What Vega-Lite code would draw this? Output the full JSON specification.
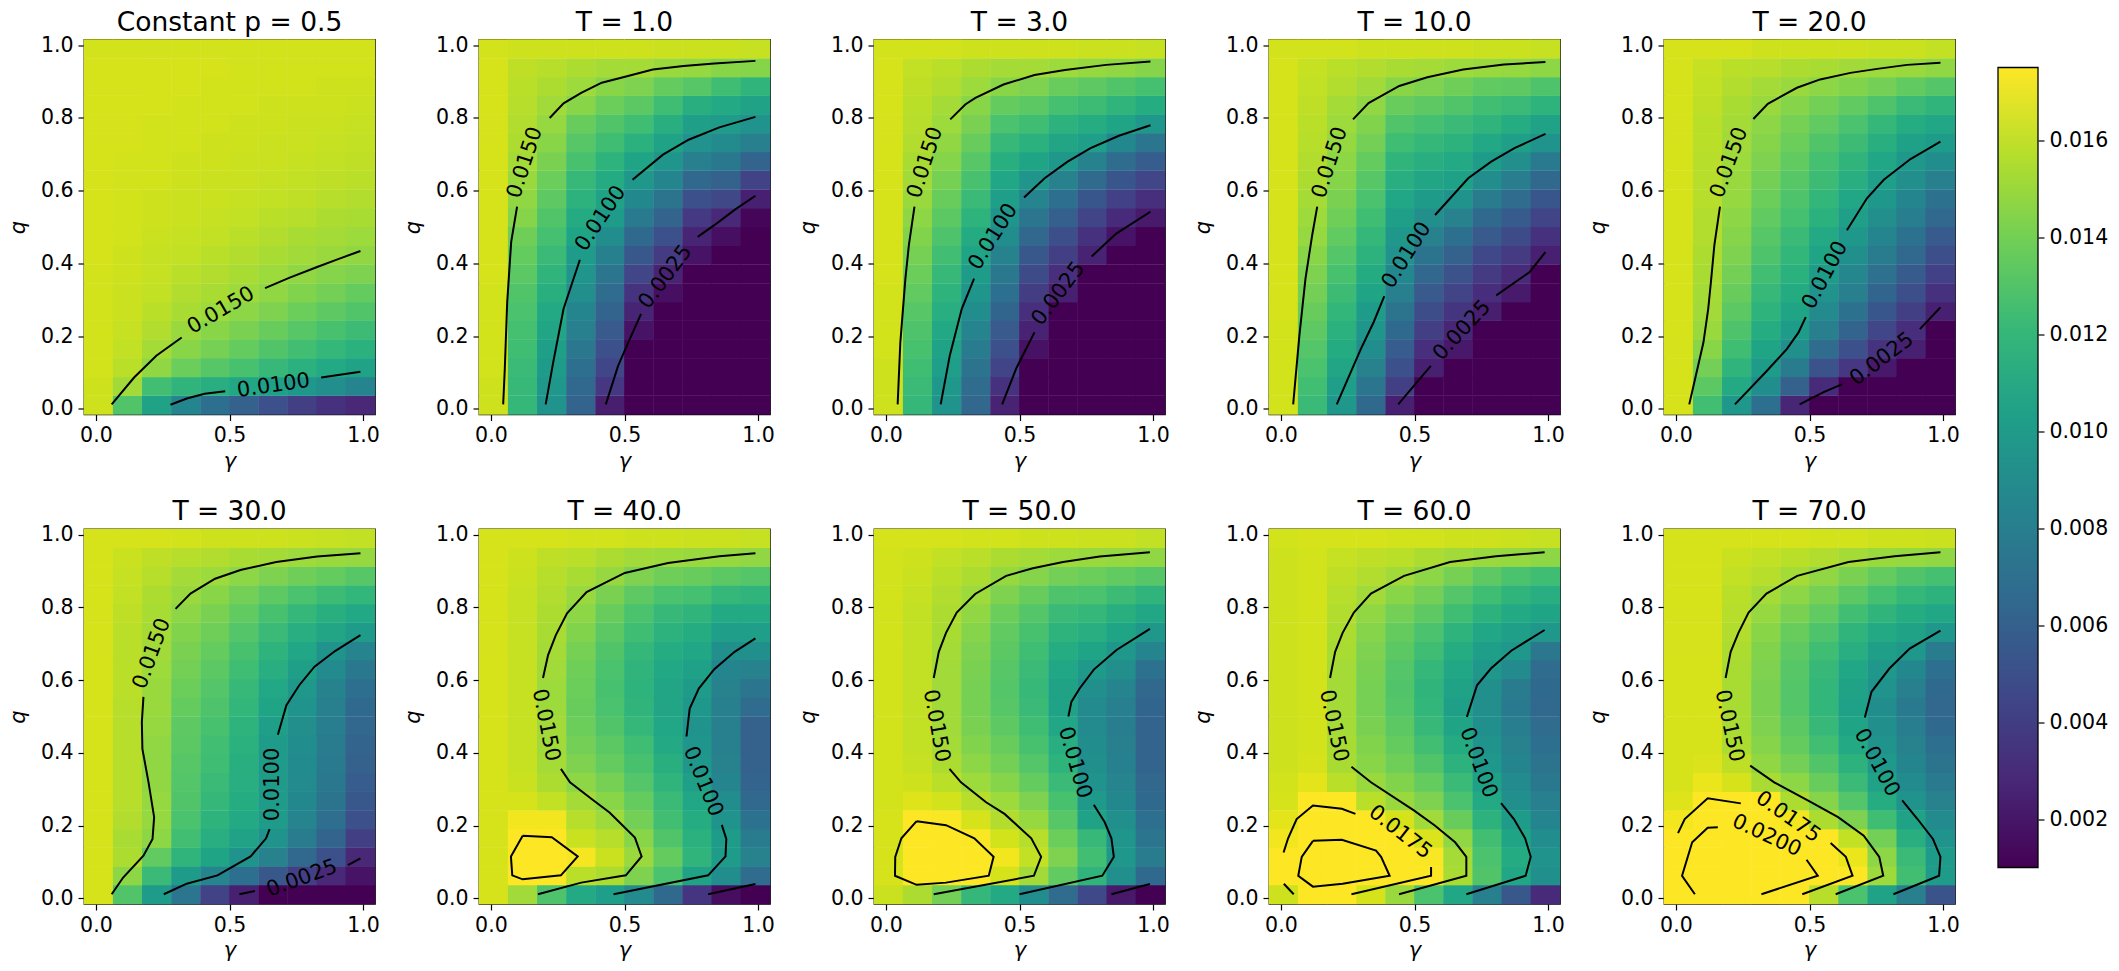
{"$schema":"https://vega.github.io/schema/vega-lite/v6.json","background":"white","padding":{"left":6,"top":8.5,"right":0,"bottom":0},"config":{"font":"DejaVu Sans","view":{"stroke":"black","strokeWidth":1.3},"axis":{"grid":false,"domain":false,"labelFontSize":20.5,"titleFontSize":21,"titleFontWeight":"normal","titleFontStyle":"italic","tickSize":6,"tickWidth":1.2,"tickColor":"black","labelColor":"black","titleColor":"black","labelFlush":false,"labelPadding":5},"axisY":{"titlePadding":12},"title":{"fontSize":26.5,"fontWeight":"normal","color":"black","offset":-1},"text":{"fontSize":21,"color":"black"},"line":{"color":"black","strokeWidth":2,"clip":true},"rect":{"width":29.6,"height":19.2,"clip":true}},"datasets":{"gs":[{"i":0,"g":0.01},{"i":1,"g":0.119},{"i":2,"g":0.228},{"i":3,"g":0.337},{"i":4,"g":0.446},{"i":5,"g":0.554},{"i":6,"g":0.663},{"i":7,"g":0.772},{"i":8,"g":0.881},{"i":9,"g":0.99}],"qs":[{"j":0,"q":0.01},{"j":1,"q":0.062},{"j":2,"q":0.113},{"j":3,"q":0.165},{"j":4,"q":0.216},{"j":5,"q":0.268},{"j":6,"q":0.319},{"j":7,"q":0.371},{"j":8,"q":0.423},{"j":9,"q":0.474},{"j":10,"q":0.526},{"j":11,"q":0.577},{"j":12,"q":0.629},{"j":13,"q":0.681},{"j":14,"q":0.732},{"j":15,"q":0.784},{"j":16,"q":0.835},{"j":17,"q":0.887},{"j":18,"q":0.938},{"j":19,"q":0.99}],"cb":[{"v":10,"w":175}],
"p0":[{"i":0,"j":0,"v":163},{"i":1,"j":0,"v":130},{"i":2,"j":0,"v":105},{"i":3,"j":0,"v":85},{"i":4,"j":0,"v":70},{"i":5,"j":0,"v":60},{"i":6,"j":0,"v":50},{"i":7,"j":0,"v":40},{"i":8,"j":0,"v":33},{"i":9,"j":0,"v":28},
{"i":0,"j":1,"v":163},{"i":1,"j":1,"v":152},{"i":2,"j":1,"v":125},{"i":3,"j":1,"v":118},{"i":4,"j":1,"v":113},{"i":5,"j":1,"v":108},{"i":6,"j":1,"v":104},{"i":7,"j":1,"v":98},{"i":8,"j":1,"v":91},{"i":9,"j":1,"v":84},
{"i":0,"j":2,"v":164},{"i":1,"j":2,"v":158},{"i":2,"j":2,"v":148},{"i":3,"j":2,"v":138},{"i":4,"j":2,"v":132},{"i":5,"j":2,"v":127},{"i":6,"j":2,"v":121},{"i":7,"j":2,"v":115},{"i":8,"j":2,"v":110},{"i":9,"j":2,"v":105},
{"i":0,"j":3,"v":164},{"i":1,"j":3,"v":160},{"i":2,"j":3,"v":153},{"i":3,"j":3,"v":146},{"i":4,"j":3,"v":141},{"i":5,"j":3,"v":136},{"i":6,"j":3,"v":130},{"i":7,"j":3,"v":125},{"i":8,"j":3,"v":120},{"i":9,"j":3,"v":115},
{"i":0,"j":4,"v":164},{"i":1,"j":4,"v":161},{"i":2,"j":4,"v":156},{"i":3,"j":4,"v":150},{"i":4,"j":4,"v":146},{"i":5,"j":4,"v":142},{"i":6,"j":4,"v":137},{"i":7,"j":4,"v":132},{"i":8,"j":4,"v":127},{"i":9,"j":4,"v":123},
{"i":0,"j":5,"v":164},{"i":1,"j":5,"v":162},{"i":2,"j":5,"v":158},{"i":3,"j":5,"v":154},{"i":4,"j":5,"v":151},{"i":5,"j":5,"v":147},{"i":6,"j":5,"v":143},{"i":7,"j":5,"v":138},{"i":8,"j":5,"v":134},{"i":9,"j":5,"v":130},
{"i":0,"j":6,"v":164},{"i":1,"j":6,"v":162},{"i":2,"j":6,"v":160},{"i":3,"j":6,"v":156},{"i":4,"j":6,"v":154},{"i":5,"j":6,"v":151},{"i":6,"j":6,"v":148},{"i":7,"j":6,"v":144},{"i":8,"j":6,"v":140},{"i":9,"j":6,"v":136},
{"i":0,"j":7,"v":164},{"i":1,"j":7,"v":163},{"i":2,"j":7,"v":161},{"i":3,"j":7,"v":158},{"i":4,"j":7,"v":156},{"i":5,"j":7,"v":154},{"i":6,"j":7,"v":151},{"i":7,"j":7,"v":148},{"i":8,"j":7,"v":145},{"i":9,"j":7,"v":143},
{"i":0,"j":8,"v":165},{"i":1,"j":8,"v":163},{"i":2,"j":8,"v":161},{"i":3,"j":8,"v":160},{"i":4,"j":8,"v":158},{"i":5,"j":8,"v":156},{"i":6,"j":8,"v":154},{"i":7,"j":8,"v":152},{"i":8,"j":8,"v":150},{"i":9,"j":8,"v":148},
{"i":0,"j":9,"v":165},{"i":1,"j":9,"v":164},{"i":2,"j":9,"v":162},{"i":3,"j":9,"v":161},{"i":4,"j":9,"v":160},{"i":5,"j":9,"v":158},{"i":6,"j":9,"v":156},{"i":7,"j":9,"v":154},{"i":8,"j":9,"v":153},{"i":9,"j":9,"v":151},
{"i":0,"j":10,"v":165},{"i":1,"j":10,"v":164},{"i":2,"j":10,"v":163},{"i":3,"j":10,"v":162},{"i":4,"j":10,"v":161},{"i":5,"j":10,"v":160},{"i":6,"j":10,"v":158},{"i":7,"j":10,"v":157},{"i":8,"j":10,"v":155},{"i":9,"j":10,"v":154},
{"i":0,"j":11,"v":165},{"i":1,"j":11,"v":164},{"i":2,"j":11,"v":163},{"i":3,"j":11,"v":162},{"i":4,"j":11,"v":162},{"i":5,"j":11,"v":161},{"i":6,"j":11,"v":160},{"i":7,"j":11,"v":159},{"i":8,"j":11,"v":157},{"i":9,"j":11,"v":156},
{"i":0,"j":12,"v":165},{"i":1,"j":12,"v":164},{"i":2,"j":12,"v":164},{"i":3,"j":12,"v":163},{"i":4,"j":12,"v":162},{"i":5,"j":12,"v":162},{"i":6,"j":12,"v":161},{"i":7,"j":12,"v":160},{"i":8,"j":12,"v":159},{"i":9,"j":12,"v":158},
{"i":0,"j":13,"v":165},{"i":1,"j":13,"v":164},{"i":2,"j":13,"v":164},{"i":3,"j":13,"v":163},{"i":4,"j":13,"v":163},{"i":5,"j":13,"v":162},{"i":6,"j":13,"v":162},{"i":7,"j":13,"v":161},{"i":8,"j":13,"v":160},{"i":9,"j":13,"v":159},
{"i":0,"j":14,"v":165},{"i":1,"j":14,"v":165},{"i":2,"j":14,"v":164},{"i":3,"j":14,"v":164},{"i":4,"j":14,"v":163},{"i":5,"j":14,"v":163},{"i":6,"j":14,"v":162},{"i":7,"j":14,"v":162},{"i":8,"j":14,"v":161},{"i":9,"j":14,"v":160},
{"i":0,"j":15,"v":165},{"i":1,"j":15,"v":165},{"i":2,"j":15,"v":164},{"i":3,"j":15,"v":164},{"i":4,"j":15,"v":164},{"i":5,"j":15,"v":163},{"i":6,"j":15,"v":163},{"i":7,"j":15,"v":162},{"i":8,"j":15,"v":162},{"i":9,"j":15,"v":161},
{"i":0,"j":16,"v":165},{"i":1,"j":16,"v":165},{"i":2,"j":16,"v":165},{"i":3,"j":16,"v":164},{"i":4,"j":16,"v":164},{"i":5,"j":16,"v":164},{"i":6,"j":16,"v":163},{"i":7,"j":16,"v":163},{"i":8,"j":16,"v":163},{"i":9,"j":16,"v":162},
{"i":0,"j":17,"v":165},{"i":1,"j":17,"v":165},{"i":2,"j":17,"v":165},{"i":3,"j":17,"v":165},{"i":4,"j":17,"v":164},{"i":5,"j":17,"v":164},{"i":6,"j":17,"v":164},{"i":7,"j":17,"v":164},{"i":8,"j":17,"v":163},{"i":9,"j":17,"v":163},
{"i":0,"j":18,"v":165},{"i":1,"j":18,"v":165},{"i":2,"j":18,"v":165},{"i":3,"j":18,"v":165},{"i":4,"j":18,"v":165},{"i":5,"j":18,"v":164},{"i":6,"j":18,"v":164},{"i":7,"j":18,"v":164},{"i":8,"j":18,"v":164},{"i":9,"j":18,"v":164},
{"i":0,"j":19,"v":164},{"i":1,"j":19,"v":164},{"i":2,"j":19,"v":164},{"i":3,"j":19,"v":164},{"i":4,"j":19,"v":164},{"i":5,"j":19,"v":164},{"i":6,"j":19,"v":164},{"i":7,"j":19,"v":164},{"i":8,"j":19,"v":164},{"i":9,"j":19,"v":164}],
"p1":[{"i":0,"j":0,"v":163},{"i":0,"j":1,"v":163},{"i":0,"j":2,"v":164},{"i":0,"j":3,"v":164},{"i":0,"j":4,"v":164},{"i":0,"j":5,"v":164},{"i":0,"j":6,"v":164},{"i":0,"j":7,"v":165},{"i":0,"j":8,"v":165},{"i":0,"j":9,"v":165},{"i":0,"j":10,"v":165},{"i":0,"j":11,"v":165},{"i":0,"j":12,"v":165},{"i":0,"j":13,"v":165},{"i":0,"j":14,"v":165},{"i":0,"j":15,"v":165},{"i":0,"j":16,"v":165},{"i":0,"j":17,"v":165},{"i":0,"j":18,"v":165},{"i":0,"j":19,"v":164},
{"i":1,"j":0,"v":120},{"i":1,"j":1,"v":121},{"i":1,"j":2,"v":122},{"i":1,"j":3,"v":124},{"i":1,"j":4,"v":126},{"i":1,"j":5,"v":128},{"i":1,"j":6,"v":130},{"i":1,"j":7,"v":133},{"i":1,"j":8,"v":136},{"i":1,"j":9,"v":139},{"i":1,"j":10,"v":145},{"i":1,"j":11,"v":148},{"i":1,"j":12,"v":150},{"i":1,"j":13,"v":153},{"i":1,"j":14,"v":155},{"i":1,"j":15,"v":156},{"i":1,"j":16,"v":157},{"i":1,"j":17,"v":158},{"i":1,"j":18,"v":159},{"i":1,"j":19,"v":163},
{"i":2,"j":0,"v":95},{"i":2,"j":1,"v":97},{"i":2,"j":2,"v":100},{"i":2,"j":3,"v":103},{"i":2,"j":4,"v":107},{"i":2,"j":5,"v":110},{"i":2,"j":6,"v":114},{"i":2,"j":7,"v":118},{"i":2,"j":8,"v":122},{"i":2,"j":9,"v":126},{"i":2,"j":10,"v":130},{"i":2,"j":11,"v":134},{"i":2,"j":12,"v":138},{"i":2,"j":13,"v":142},{"i":2,"j":14,"v":146},{"i":2,"j":15,"v":149},{"i":2,"j":16,"v":152},{"i":2,"j":17,"v":155},{"i":2,"j":18,"v":157},{"i":2,"j":19,"v":163},
{"i":3,"j":0,"v":62},{"i":3,"j":1,"v":65},{"i":3,"j":2,"v":70},{"i":3,"j":3,"v":75},{"i":3,"j":4,"v":80},{"i":3,"j":5,"v":85},{"i":3,"j":6,"v":91},{"i":3,"j":7,"v":96},{"i":3,"j":8,"v":101},{"i":3,"j":9,"v":106},{"i":3,"j":10,"v":111},{"i":3,"j":11,"v":116},{"i":3,"j":12,"v":121},{"i":3,"j":13,"v":127},{"i":3,"j":14,"v":132},{"i":3,"j":15,"v":137},{"i":3,"j":16,"v":146},{"i":3,"j":17,"v":151},{"i":3,"j":18,"v":155},{"i":3,"j":19,"v":163},
{"i":4,"j":0,"v":23},{"i":4,"j":1,"v":36},{"i":4,"j":2,"v":44},{"i":4,"j":3,"v":50},{"i":4,"j":4,"v":56},{"i":4,"j":5,"v":62},{"i":4,"j":6,"v":68},{"i":4,"j":7,"v":74},{"i":4,"j":8,"v":81},{"i":4,"j":9,"v":90},{"i":4,"j":10,"v":100},{"i":4,"j":11,"v":105},{"i":4,"j":12,"v":111},{"i":4,"j":13,"v":117},{"i":4,"j":14,"v":124},{"i":4,"j":15,"v":130},{"i":4,"j":16,"v":138},{"i":4,"j":17,"v":146},{"i":4,"j":18,"v":153},{"i":4,"j":19,"v":163},
{"i":5,"j":0,"v":10},{"i":5,"j":1,"v":10},{"i":5,"j":2,"v":10},{"i":5,"j":3,"v":10},{"i":5,"j":4,"v":18},{"i":5,"j":5,"v":26},{"i":5,"j":6,"v":34},{"i":5,"j":7,"v":44},{"i":5,"j":8,"v":55},{"i":5,"j":9,"v":66},{"i":5,"j":10,"v":77},{"i":5,"j":11,"v":87},{"i":5,"j":12,"v":97},{"i":5,"j":13,"v":106},{"i":5,"j":14,"v":115},{"i":5,"j":15,"v":124},{"i":5,"j":16,"v":133},{"i":5,"j":17,"v":143},{"i":5,"j":18,"v":153},{"i":5,"j":19,"v":163},
{"i":6,"j":0,"v":10},{"i":6,"j":1,"v":10},{"i":6,"j":2,"v":10},{"i":6,"j":3,"v":10},{"i":6,"j":4,"v":10},{"i":6,"j":5,"v":10},{"i":6,"j":6,"v":16},{"i":6,"j":7,"v":25},{"i":6,"j":8,"v":38},{"i":6,"j":9,"v":50},{"i":6,"j":10,"v":62},{"i":6,"j":11,"v":73},{"i":6,"j":12,"v":85},{"i":6,"j":13,"v":96},{"i":6,"j":14,"v":105},{"i":6,"j":15,"v":114},{"i":6,"j":16,"v":124},{"i":6,"j":17,"v":136},{"i":6,"j":18,"v":150},{"i":6,"j":19,"v":162},
{"i":7,"j":0,"v":10},{"i":7,"j":1,"v":10},{"i":7,"j":2,"v":10},{"i":7,"j":3,"v":10},{"i":7,"j":4,"v":10},{"i":7,"j":5,"v":10},{"i":7,"j":6,"v":10},{"i":7,"j":7,"v":10},{"i":7,"j":8,"v":18},{"i":7,"j":9,"v":26},{"i":7,"j":10,"v":37},{"i":7,"j":11,"v":50},{"i":7,"j":12,"v":65},{"i":7,"j":13,"v":80},{"i":7,"j":14,"v":93},{"i":7,"j":15,"v":103},{"i":7,"j":16,"v":114},{"i":7,"j":17,"v":132},{"i":7,"j":18,"v":149},{"i":7,"j":19,"v":162},
{"i":8,"j":0,"v":10},{"i":8,"j":1,"v":10},{"i":8,"j":2,"v":10},{"i":8,"j":3,"v":10},{"i":8,"j":4,"v":10},{"i":8,"j":5,"v":10},{"i":8,"j":6,"v":10},{"i":8,"j":7,"v":10},{"i":8,"j":8,"v":10},{"i":8,"j":9,"v":16},{"i":8,"j":10,"v":28},{"i":8,"j":11,"v":45},{"i":8,"j":12,"v":60},{"i":8,"j":13,"v":76},{"i":8,"j":14,"v":88},{"i":8,"j":15,"v":100},{"i":8,"j":16,"v":110},{"i":8,"j":17,"v":124},{"i":8,"j":18,"v":146},{"i":8,"j":19,"v":162},
{"i":9,"j":0,"v":10},{"i":9,"j":1,"v":10},{"i":9,"j":2,"v":10},{"i":9,"j":3,"v":10},{"i":9,"j":4,"v":10},{"i":9,"j":5,"v":10},{"i":9,"j":6,"v":10},{"i":9,"j":7,"v":10},{"i":9,"j":8,"v":10},{"i":9,"j":9,"v":10},{"i":9,"j":10,"v":12},{"i":9,"j":11,"v":24},{"i":9,"j":12,"v":42},{"i":9,"j":13,"v":62},{"i":9,"j":14,"v":80},{"i":9,"j":15,"v":95},{"i":9,"j":16,"v":105},{"i":9,"j":17,"v":118},{"i":9,"j":18,"v":145},{"i":9,"j":19,"v":161}],
"p2":[{"i":0,"j":0,"v":163},{"i":0,"j":1,"v":163},{"i":0,"j":2,"v":163},{"i":0,"j":3,"v":164},{"i":0,"j":4,"v":164},{"i":0,"j":5,"v":164},{"i":0,"j":6,"v":164},{"i":0,"j":7,"v":165},{"i":0,"j":8,"v":165},{"i":0,"j":9,"v":165},{"i":0,"j":10,"v":165},{"i":0,"j":11,"v":165},{"i":0,"j":12,"v":165},{"i":0,"j":13,"v":165},{"i":0,"j":14,"v":165},{"i":0,"j":15,"v":165},{"i":0,"j":16,"v":165},{"i":0,"j":17,"v":165},{"i":0,"j":18,"v":165},{"i":0,"j":19,"v":164},
{"i":1,"j":0,"v":120},{"i":1,"j":1,"v":122},{"i":1,"j":2,"v":124},{"i":1,"j":3,"v":127},{"i":1,"j":4,"v":129},{"i":1,"j":5,"v":132},{"i":1,"j":6,"v":135},{"i":1,"j":7,"v":138},{"i":1,"j":8,"v":141},{"i":1,"j":9,"v":144},{"i":1,"j":10,"v":147},{"i":1,"j":11,"v":150},{"i":1,"j":12,"v":152},{"i":1,"j":13,"v":154},{"i":1,"j":14,"v":156},{"i":1,"j":15,"v":157},{"i":1,"j":16,"v":158},{"i":1,"j":17,"v":159},{"i":1,"j":18,"v":160},{"i":1,"j":19,"v":164},
{"i":2,"j":0,"v":95},{"i":2,"j":1,"v":98},{"i":2,"j":2,"v":102},{"i":2,"j":3,"v":105},{"i":2,"j":4,"v":109},{"i":2,"j":5,"v":113},{"i":2,"j":6,"v":117},{"i":2,"j":7,"v":121},{"i":2,"j":8,"v":125},{"i":2,"j":9,"v":129},{"i":2,"j":10,"v":133},{"i":2,"j":11,"v":137},{"i":2,"j":12,"v":141},{"i":2,"j":13,"v":145},{"i":2,"j":14,"v":148},{"i":2,"j":15,"v":151},{"i":2,"j":16,"v":153},{"i":2,"j":17,"v":156},{"i":2,"j":18,"v":158},{"i":2,"j":19,"v":164},
{"i":3,"j":0,"v":64},{"i":3,"j":1,"v":68},{"i":3,"j":2,"v":73},{"i":3,"j":3,"v":78},{"i":3,"j":4,"v":84},{"i":3,"j":5,"v":90},{"i":3,"j":6,"v":96},{"i":3,"j":7,"v":101},{"i":3,"j":8,"v":106},{"i":3,"j":9,"v":111},{"i":3,"j":10,"v":117},{"i":3,"j":11,"v":122},{"i":3,"j":12,"v":127},{"i":3,"j":13,"v":132},{"i":3,"j":14,"v":137},{"i":3,"j":15,"v":142},{"i":3,"j":16,"v":146},{"i":3,"j":17,"v":151},{"i":3,"j":18,"v":155},{"i":3,"j":19,"v":163},
{"i":4,"j":0,"v":25},{"i":4,"j":1,"v":33},{"i":4,"j":2,"v":43},{"i":4,"j":3,"v":50},{"i":4,"j":4,"v":56},{"i":4,"j":5,"v":63},{"i":4,"j":6,"v":70},{"i":4,"j":7,"v":76},{"i":4,"j":8,"v":83},{"i":4,"j":9,"v":90},{"i":4,"j":10,"v":96},{"i":4,"j":11,"v":102},{"i":4,"j":12,"v":108},{"i":4,"j":13,"v":114},{"i":4,"j":14,"v":121},{"i":4,"j":15,"v":128},{"i":4,"j":16,"v":136},{"i":4,"j":17,"v":146},{"i":4,"j":18,"v":153},{"i":4,"j":19,"v":163},
{"i":5,"j":0,"v":10},{"i":5,"j":1,"v":10},{"i":5,"j":2,"v":10},{"i":5,"j":3,"v":17},{"i":5,"j":4,"v":25},{"i":5,"j":5,"v":32},{"i":5,"j":6,"v":39},{"i":5,"j":7,"v":47},{"i":5,"j":8,"v":55},{"i":5,"j":9,"v":64},{"i":5,"j":10,"v":74},{"i":5,"j":11,"v":84},{"i":5,"j":12,"v":96},{"i":5,"j":13,"v":106},{"i":5,"j":14,"v":115},{"i":5,"j":15,"v":124},{"i":5,"j":16,"v":133},{"i":5,"j":17,"v":143},{"i":5,"j":18,"v":153},{"i":5,"j":19,"v":163},
{"i":6,"j":0,"v":10},{"i":6,"j":1,"v":10},{"i":6,"j":2,"v":10},{"i":6,"j":3,"v":10},{"i":6,"j":4,"v":10},{"i":6,"j":5,"v":10},{"i":6,"j":6,"v":24},{"i":6,"j":7,"v":32},{"i":6,"j":8,"v":40},{"i":6,"j":9,"v":49},{"i":6,"j":10,"v":59},{"i":6,"j":11,"v":70},{"i":6,"j":12,"v":82},{"i":6,"j":13,"v":97},{"i":6,"j":14,"v":107},{"i":6,"j":15,"v":116},{"i":6,"j":16,"v":126},{"i":6,"j":17,"v":137},{"i":6,"j":18,"v":151},{"i":6,"j":19,"v":163},
{"i":7,"j":0,"v":10},{"i":7,"j":1,"v":10},{"i":7,"j":2,"v":10},{"i":7,"j":3,"v":10},{"i":7,"j":4,"v":10},{"i":7,"j":5,"v":10},{"i":7,"j":6,"v":10},{"i":7,"j":7,"v":10},{"i":7,"j":8,"v":25},{"i":7,"j":9,"v":33},{"i":7,"j":10,"v":43},{"i":7,"j":11,"v":54},{"i":7,"j":12,"v":67},{"i":7,"j":13,"v":83},{"i":7,"j":14,"v":102},{"i":7,"j":15,"v":112},{"i":7,"j":16,"v":123},{"i":7,"j":17,"v":134},{"i":7,"j":18,"v":149},{"i":7,"j":19,"v":162},
{"i":8,"j":0,"v":10},{"i":8,"j":1,"v":10},{"i":8,"j":2,"v":10},{"i":8,"j":3,"v":10},{"i":8,"j":4,"v":10},{"i":8,"j":5,"v":10},{"i":8,"j":6,"v":10},{"i":8,"j":7,"v":10},{"i":8,"j":8,"v":10},{"i":8,"j":9,"v":18},{"i":8,"j":10,"v":30},{"i":8,"j":11,"v":41},{"i":8,"j":12,"v":54},{"i":8,"j":13,"v":68},{"i":8,"j":14,"v":87},{"i":8,"j":15,"v":106},{"i":8,"j":16,"v":118},{"i":8,"j":17,"v":130},{"i":8,"j":18,"v":148},{"i":8,"j":19,"v":162},
{"i":9,"j":0,"v":10},{"i":9,"j":1,"v":10},{"i":9,"j":2,"v":10},{"i":9,"j":3,"v":10},{"i":9,"j":4,"v":10},{"i":9,"j":5,"v":10},{"i":9,"j":6,"v":10},{"i":9,"j":7,"v":10},{"i":9,"j":8,"v":10},{"i":9,"j":9,"v":10},{"i":9,"j":10,"v":21},{"i":9,"j":11,"v":32},{"i":9,"j":12,"v":44},{"i":9,"j":13,"v":58},{"i":9,"j":14,"v":74},{"i":9,"j":15,"v":97},{"i":9,"j":16,"v":112},{"i":9,"j":17,"v":126},{"i":9,"j":18,"v":145},{"i":9,"j":19,"v":161}],
"p3":[{"i":0,"j":0,"v":164},{"i":0,"j":1,"v":164},{"i":0,"j":2,"v":164},{"i":0,"j":3,"v":164},{"i":0,"j":4,"v":164},{"i":0,"j":5,"v":165},{"i":0,"j":6,"v":165},{"i":0,"j":7,"v":165},{"i":0,"j":8,"v":165},{"i":0,"j":9,"v":165},{"i":0,"j":10,"v":165},{"i":0,"j":11,"v":165},{"i":0,"j":12,"v":165},{"i":0,"j":13,"v":165},{"i":0,"j":14,"v":165},{"i":0,"j":15,"v":165},{"i":0,"j":16,"v":165},{"i":0,"j":17,"v":165},{"i":0,"j":18,"v":165},{"i":0,"j":19,"v":164},
{"i":1,"j":0,"v":122},{"i":1,"j":1,"v":125},{"i":1,"j":2,"v":128},{"i":1,"j":3,"v":131},{"i":1,"j":4,"v":134},{"i":1,"j":5,"v":137},{"i":1,"j":6,"v":140},{"i":1,"j":7,"v":143},{"i":1,"j":8,"v":146},{"i":1,"j":9,"v":149},{"i":1,"j":10,"v":151},{"i":1,"j":11,"v":153},{"i":1,"j":12,"v":155},{"i":1,"j":13,"v":156},{"i":1,"j":14,"v":157},{"i":1,"j":15,"v":158},{"i":1,"j":16,"v":159},{"i":1,"j":17,"v":160},{"i":1,"j":18,"v":161},{"i":1,"j":19,"v":164},
{"i":2,"j":0,"v":97},{"i":2,"j":1,"v":102},{"i":2,"j":2,"v":107},{"i":2,"j":3,"v":111},{"i":2,"j":4,"v":115},{"i":2,"j":5,"v":119},{"i":2,"j":6,"v":123},{"i":2,"j":7,"v":127},{"i":2,"j":8,"v":131},{"i":2,"j":9,"v":135},{"i":2,"j":10,"v":139},{"i":2,"j":11,"v":142},{"i":2,"j":12,"v":145},{"i":2,"j":13,"v":147},{"i":2,"j":14,"v":149},{"i":2,"j":15,"v":151},{"i":2,"j":16,"v":153},{"i":2,"j":17,"v":156},{"i":2,"j":18,"v":158},{"i":2,"j":19,"v":164},
{"i":3,"j":0,"v":66},{"i":3,"j":1,"v":74},{"i":3,"j":2,"v":82},{"i":3,"j":3,"v":90},{"i":3,"j":4,"v":96},{"i":3,"j":5,"v":101},{"i":3,"j":6,"v":106},{"i":3,"j":7,"v":111},{"i":3,"j":8,"v":116},{"i":3,"j":9,"v":120},{"i":3,"j":10,"v":124},{"i":3,"j":11,"v":128},{"i":3,"j":12,"v":132},{"i":3,"j":13,"v":136},{"i":3,"j":14,"v":140},{"i":3,"j":15,"v":144},{"i":3,"j":16,"v":148},{"i":3,"j":17,"v":152},{"i":3,"j":18,"v":156},{"i":3,"j":19,"v":163},
{"i":4,"j":0,"v":24},{"i":4,"j":1,"v":40},{"i":4,"j":2,"v":50},{"i":4,"j":3,"v":58},{"i":4,"j":4,"v":66},{"i":4,"j":5,"v":73},{"i":4,"j":6,"v":80},{"i":4,"j":7,"v":87},{"i":4,"j":8,"v":93},{"i":4,"j":9,"v":98},{"i":4,"j":10,"v":103},{"i":4,"j":11,"v":108},{"i":4,"j":12,"v":113},{"i":4,"j":13,"v":118},{"i":4,"j":14,"v":124},{"i":4,"j":15,"v":130},{"i":4,"j":16,"v":137},{"i":4,"j":17,"v":146},{"i":4,"j":18,"v":154},{"i":4,"j":19,"v":163},
{"i":5,"j":0,"v":10},{"i":5,"j":1,"v":10},{"i":5,"j":2,"v":24},{"i":5,"j":3,"v":32},{"i":5,"j":4,"v":40},{"i":5,"j":5,"v":48},{"i":5,"j":6,"v":56},{"i":5,"j":7,"v":64},{"i":5,"j":8,"v":73},{"i":5,"j":9,"v":82},{"i":5,"j":10,"v":91},{"i":5,"j":11,"v":100},{"i":5,"j":12,"v":107},{"i":5,"j":13,"v":113},{"i":5,"j":14,"v":120},{"i":5,"j":15,"v":126},{"i":5,"j":16,"v":134},{"i":5,"j":17,"v":143},{"i":5,"j":18,"v":153},{"i":5,"j":19,"v":163},
{"i":6,"j":0,"v":10},{"i":6,"j":1,"v":10},{"i":6,"j":2,"v":10},{"i":6,"j":3,"v":20},{"i":6,"j":4,"v":27},{"i":6,"j":5,"v":35},{"i":6,"j":6,"v":43},{"i":6,"j":7,"v":51},{"i":6,"j":8,"v":60},{"i":6,"j":9,"v":70},{"i":6,"j":10,"v":82},{"i":6,"j":11,"v":95},{"i":6,"j":12,"v":104},{"i":6,"j":13,"v":110},{"i":6,"j":14,"v":116},{"i":6,"j":15,"v":122},{"i":6,"j":16,"v":130},{"i":6,"j":17,"v":139},{"i":6,"j":18,"v":151},{"i":6,"j":19,"v":163},
{"i":7,"j":0,"v":10},{"i":7,"j":1,"v":10},{"i":7,"j":2,"v":10},{"i":7,"j":3,"v":10},{"i":7,"j":4,"v":10},{"i":7,"j":5,"v":23},{"i":7,"j":6,"v":31},{"i":7,"j":7,"v":38},{"i":7,"j":8,"v":46},{"i":7,"j":9,"v":56},{"i":7,"j":10,"v":66},{"i":7,"j":11,"v":78},{"i":7,"j":12,"v":90},{"i":7,"j":13,"v":101},{"i":7,"j":14,"v":109},{"i":7,"j":15,"v":118},{"i":7,"j":16,"v":125},{"i":7,"j":17,"v":135},{"i":7,"j":18,"v":150},{"i":7,"j":19,"v":162},
{"i":8,"j":0,"v":10},{"i":8,"j":1,"v":10},{"i":8,"j":2,"v":10},{"i":8,"j":3,"v":10},{"i":8,"j":4,"v":10},{"i":8,"j":5,"v":10},{"i":8,"j":6,"v":21},{"i":8,"j":7,"v":29},{"i":8,"j":8,"v":38},{"i":8,"j":9,"v":47},{"i":8,"j":10,"v":57},{"i":8,"j":11,"v":68},{"i":8,"j":12,"v":79},{"i":8,"j":13,"v":91},{"i":8,"j":14,"v":103},{"i":8,"j":15,"v":112},{"i":8,"j":16,"v":122},{"i":8,"j":17,"v":134},{"i":8,"j":18,"v":149},{"i":8,"j":19,"v":162},
{"i":9,"j":0,"v":10},{"i":9,"j":1,"v":10},{"i":9,"j":2,"v":10},{"i":9,"j":3,"v":10},{"i":9,"j":4,"v":10},{"i":9,"j":5,"v":10},{"i":9,"j":6,"v":10},{"i":9,"j":7,"v":10},{"i":9,"j":8,"v":24},{"i":9,"j":9,"v":33},{"i":9,"j":10,"v":43},{"i":9,"j":11,"v":54},{"i":9,"j":12,"v":65},{"i":9,"j":13,"v":77},{"i":9,"j":14,"v":94},{"i":9,"j":15,"v":105},{"i":9,"j":16,"v":117},{"i":9,"j":17,"v":129},{"i":9,"j":18,"v":147},{"i":9,"j":19,"v":161}],
"p4":[{"i":0,"j":0,"v":165},{"i":0,"j":1,"v":165},{"i":0,"j":2,"v":165},{"i":0,"j":3,"v":165},{"i":0,"j":4,"v":165},{"i":0,"j":5,"v":165},{"i":0,"j":6,"v":165},{"i":0,"j":7,"v":165},{"i":0,"j":8,"v":165},{"i":0,"j":9,"v":165},{"i":0,"j":10,"v":165},{"i":0,"j":11,"v":165},{"i":0,"j":12,"v":165},{"i":0,"j":13,"v":165},{"i":0,"j":14,"v":165},{"i":0,"j":15,"v":165},{"i":0,"j":16,"v":165},{"i":0,"j":17,"v":165},{"i":0,"j":18,"v":165},{"i":0,"j":19,"v":165},
{"i":1,"j":0,"v":125},{"i":1,"j":1,"v":133},{"i":1,"j":2,"v":140},{"i":1,"j":3,"v":146},{"i":1,"j":4,"v":150},{"i":1,"j":5,"v":152},{"i":1,"j":6,"v":153},{"i":1,"j":7,"v":154},{"i":1,"j":8,"v":155},{"i":1,"j":9,"v":156},{"i":1,"j":10,"v":156},{"i":1,"j":11,"v":157},{"i":1,"j":12,"v":157},{"i":1,"j":13,"v":157},{"i":1,"j":14,"v":158},{"i":1,"j":15,"v":158},{"i":1,"j":16,"v":159},{"i":1,"j":17,"v":160},{"i":1,"j":18,"v":161},{"i":1,"j":19,"v":165},
{"i":2,"j":0,"v":98},{"i":2,"j":1,"v":110},{"i":2,"j":2,"v":118},{"i":2,"j":3,"v":124},{"i":2,"j":4,"v":129},{"i":2,"j":5,"v":133},{"i":2,"j":6,"v":137},{"i":2,"j":7,"v":140},{"i":2,"j":8,"v":143},{"i":2,"j":9,"v":145},{"i":2,"j":10,"v":147},{"i":2,"j":11,"v":149},{"i":2,"j":12,"v":150},{"i":2,"j":13,"v":151},{"i":2,"j":14,"v":152},{"i":2,"j":15,"v":153},{"i":2,"j":16,"v":154},{"i":2,"j":17,"v":156},{"i":2,"j":18,"v":158},{"i":2,"j":19,"v":165},
{"i":3,"j":0,"v":70},{"i":3,"j":1,"v":90},{"i":3,"j":2,"v":100},{"i":3,"j":3,"v":106},{"i":3,"j":4,"v":112},{"i":3,"j":5,"v":117},{"i":3,"j":6,"v":121},{"i":3,"j":7,"v":125},{"i":3,"j":8,"v":129},{"i":3,"j":9,"v":132},{"i":3,"j":10,"v":135},{"i":3,"j":11,"v":138},{"i":3,"j":12,"v":140},{"i":3,"j":13,"v":143},{"i":3,"j":14,"v":145},{"i":3,"j":15,"v":147},{"i":3,"j":16,"v":150},{"i":3,"j":17,"v":153},{"i":3,"j":18,"v":157},{"i":3,"j":19,"v":163},
{"i":4,"j":0,"v":27},{"i":4,"j":1,"v":60},{"i":4,"j":2,"v":78},{"i":4,"j":3,"v":92},{"i":4,"j":4,"v":101},{"i":4,"j":5,"v":106},{"i":4,"j":6,"v":111},{"i":4,"j":7,"v":115},{"i":4,"j":8,"v":119},{"i":4,"j":9,"v":122},{"i":4,"j":10,"v":126},{"i":4,"j":11,"v":129},{"i":4,"j":12,"v":132},{"i":4,"j":13,"v":135},{"i":4,"j":14,"v":138},{"i":4,"j":15,"v":141},{"i":4,"j":16,"v":145},{"i":4,"j":17,"v":150},{"i":4,"j":18,"v":155},{"i":4,"j":19,"v":163},
{"i":5,"j":0,"v":10},{"i":5,"j":1,"v":30},{"i":5,"j":2,"v":52},{"i":5,"j":3,"v":68},{"i":5,"j":4,"v":80},{"i":5,"j":5,"v":88},{"i":5,"j":6,"v":95},{"i":5,"j":7,"v":101},{"i":5,"j":8,"v":106},{"i":5,"j":9,"v":110},{"i":5,"j":10,"v":115},{"i":5,"j":11,"v":119},{"i":5,"j":12,"v":123},{"i":5,"j":13,"v":126},{"i":5,"j":14,"v":130},{"i":5,"j":15,"v":135},{"i":5,"j":16,"v":140},{"i":5,"j":17,"v":147},{"i":5,"j":18,"v":154},{"i":5,"j":19,"v":163},
{"i":6,"j":0,"v":10},{"i":6,"j":1,"v":10},{"i":6,"j":2,"v":36},{"i":6,"j":3,"v":50},{"i":6,"j":4,"v":62},{"i":6,"j":5,"v":72},{"i":6,"j":6,"v":80},{"i":6,"j":7,"v":86},{"i":6,"j":8,"v":92},{"i":6,"j":9,"v":98},{"i":6,"j":10,"v":103},{"i":6,"j":11,"v":108},{"i":6,"j":12,"v":113},{"i":6,"j":13,"v":118},{"i":6,"j":14,"v":123},{"i":6,"j":15,"v":128},{"i":6,"j":16,"v":135},{"i":6,"j":17,"v":144},{"i":6,"j":18,"v":152},{"i":6,"j":19,"v":163},
{"i":7,"j":0,"v":10},{"i":7,"j":1,"v":10},{"i":7,"j":2,"v":20},{"i":7,"j":3,"v":34},{"i":7,"j":4,"v":44},{"i":7,"j":5,"v":54},{"i":7,"j":6,"v":63},{"i":7,"j":7,"v":71},{"i":7,"j":8,"v":78},{"i":7,"j":9,"v":85},{"i":7,"j":10,"v":91},{"i":7,"j":11,"v":97},{"i":7,"j":12,"v":102},{"i":7,"j":13,"v":108},{"i":7,"j":14,"v":114},{"i":7,"j":15,"v":120},{"i":7,"j":16,"v":129},{"i":7,"j":17,"v":140},{"i":7,"j":18,"v":151},{"i":7,"j":19,"v":162},
{"i":8,"j":0,"v":10},{"i":8,"j":1,"v":10},{"i":8,"j":2,"v":10},{"i":8,"j":3,"v":24},{"i":8,"j":4,"v":31},{"i":8,"j":5,"v":40},{"i":8,"j":6,"v":49},{"i":8,"j":7,"v":57},{"i":8,"j":8,"v":65},{"i":8,"j":9,"v":72},{"i":8,"j":10,"v":79},{"i":8,"j":11,"v":85},{"i":8,"j":12,"v":91},{"i":8,"j":13,"v":97},{"i":8,"j":14,"v":104},{"i":8,"j":15,"v":112},{"i":8,"j":16,"v":122},{"i":8,"j":17,"v":135},{"i":8,"j":18,"v":150},{"i":8,"j":19,"v":162},
{"i":9,"j":0,"v":10},{"i":9,"j":1,"v":10},{"i":9,"j":2,"v":10},{"i":9,"j":3,"v":10},{"i":9,"j":4,"v":10},{"i":9,"j":5,"v":24},{"i":9,"j":6,"v":33},{"i":9,"j":7,"v":41},{"i":9,"j":8,"v":49},{"i":9,"j":9,"v":57},{"i":9,"j":10,"v":65},{"i":9,"j":11,"v":72},{"i":9,"j":12,"v":80},{"i":9,"j":13,"v":90},{"i":9,"j":14,"v":100},{"i":9,"j":15,"v":108},{"i":9,"j":16,"v":118},{"i":9,"j":17,"v":131},{"i":9,"j":18,"v":148},{"i":9,"j":19,"v":160}],
"p5":[{"i":0,"j":0,"v":165},{"i":0,"j":1,"v":165},{"i":0,"j":2,"v":165},{"i":0,"j":3,"v":165},{"i":0,"j":4,"v":165},{"i":0,"j":5,"v":165},{"i":0,"j":6,"v":165},{"i":0,"j":7,"v":165},{"i":0,"j":8,"v":165},{"i":0,"j":9,"v":165},{"i":0,"j":10,"v":165},{"i":0,"j":11,"v":165},{"i":0,"j":12,"v":165},{"i":0,"j":13,"v":165},{"i":0,"j":14,"v":165},{"i":0,"j":15,"v":165},{"i":0,"j":16,"v":165},{"i":0,"j":17,"v":165},{"i":0,"j":18,"v":165},{"i":0,"j":19,"v":165},
{"i":1,"j":0,"v":130},{"i":1,"j":1,"v":147},{"i":1,"j":2,"v":155},{"i":1,"j":3,"v":154},{"i":1,"j":4,"v":156},{"i":1,"j":5,"v":157},{"i":1,"j":6,"v":157},{"i":1,"j":7,"v":157},{"i":1,"j":8,"v":157},{"i":1,"j":9,"v":157},{"i":1,"j":10,"v":157},{"i":1,"j":11,"v":158},{"i":1,"j":12,"v":158},{"i":1,"j":13,"v":158},{"i":1,"j":14,"v":158},{"i":1,"j":15,"v":159},{"i":1,"j":16,"v":160},{"i":1,"j":17,"v":161},{"i":1,"j":18,"v":162},{"i":1,"j":19,"v":165},
{"i":2,"j":0,"v":100},{"i":2,"j":1,"v":122},{"i":2,"j":2,"v":135},{"i":2,"j":3,"v":147},{"i":2,"j":4,"v":149},{"i":2,"j":5,"v":149},{"i":2,"j":6,"v":148},{"i":2,"j":7,"v":148},{"i":2,"j":8,"v":148},{"i":2,"j":9,"v":149},{"i":2,"j":10,"v":150},{"i":2,"j":11,"v":150},{"i":2,"j":12,"v":151},{"i":2,"j":13,"v":152},{"i":2,"j":14,"v":153},{"i":2,"j":15,"v":154},{"i":2,"j":16,"v":155},{"i":2,"j":17,"v":157},{"i":2,"j":18,"v":159},{"i":2,"j":19,"v":165},
{"i":3,"j":0,"v":74},{"i":3,"j":1,"v":100},{"i":3,"j":2,"v":118},{"i":3,"j":3,"v":125},{"i":3,"j":4,"v":128},{"i":3,"j":5,"v":130},{"i":3,"j":6,"v":131},{"i":3,"j":7,"v":132},{"i":3,"j":8,"v":133},{"i":3,"j":9,"v":134},{"i":3,"j":10,"v":136},{"i":3,"j":11,"v":138},{"i":3,"j":12,"v":140},{"i":3,"j":13,"v":142},{"i":3,"j":14,"v":144},{"i":3,"j":15,"v":147},{"i":3,"j":16,"v":150},{"i":3,"j":17,"v":153},{"i":3,"j":18,"v":157},{"i":3,"j":19,"v":164},
{"i":4,"j":0,"v":42},{"i":4,"j":1,"v":84},{"i":4,"j":2,"v":106},{"i":4,"j":3,"v":113},{"i":4,"j":4,"v":117},{"i":4,"j":5,"v":120},{"i":4,"j":6,"v":122},{"i":4,"j":7,"v":124},{"i":4,"j":8,"v":125},{"i":4,"j":9,"v":127},{"i":4,"j":10,"v":129},{"i":4,"j":11,"v":131},{"i":4,"j":12,"v":133},{"i":4,"j":13,"v":136},{"i":4,"j":14,"v":139},{"i":4,"j":15,"v":142},{"i":4,"j":16,"v":146},{"i":4,"j":17,"v":151},{"i":4,"j":18,"v":156},{"i":4,"j":19,"v":163},
{"i":5,"j":0,"v":24},{"i":5,"j":1,"v":70},{"i":5,"j":2,"v":95},{"i":5,"j":3,"v":105},{"i":5,"j":4,"v":110},{"i":5,"j":5,"v":112},{"i":5,"j":6,"v":113},{"i":5,"j":7,"v":114},{"i":5,"j":8,"v":115},{"i":5,"j":9,"v":117},{"i":5,"j":10,"v":119},{"i":5,"j":11,"v":121},{"i":5,"j":12,"v":124},{"i":5,"j":13,"v":127},{"i":5,"j":14,"v":131},{"i":5,"j":15,"v":135},{"i":5,"j":16,"v":140},{"i":5,"j":17,"v":147},{"i":5,"j":18,"v":154},{"i":5,"j":19,"v":163},
{"i":6,"j":0,"v":10},{"i":6,"j":1,"v":55},{"i":6,"j":2,"v":82},{"i":6,"j":3,"v":94},{"i":6,"j":4,"v":100},{"i":6,"j":5,"v":100},{"i":6,"j":6,"v":100},{"i":6,"j":7,"v":100},{"i":6,"j":8,"v":101},{"i":6,"j":9,"v":103},{"i":6,"j":10,"v":106},{"i":6,"j":11,"v":109},{"i":6,"j":12,"v":113},{"i":6,"j":13,"v":117},{"i":6,"j":14,"v":122},{"i":6,"j":15,"v":127},{"i":6,"j":16,"v":134},{"i":6,"j":17,"v":143},{"i":6,"j":18,"v":153},{"i":6,"j":19,"v":163},
{"i":7,"j":0,"v":10},{"i":7,"j":1,"v":40},{"i":7,"j":2,"v":65},{"i":7,"j":3,"v":78},{"i":7,"j":4,"v":84},{"i":7,"j":5,"v":87},{"i":7,"j":6,"v":88},{"i":7,"j":7,"v":89},{"i":7,"j":8,"v":90},{"i":7,"j":9,"v":91},{"i":7,"j":10,"v":94},{"i":7,"j":11,"v":98},{"i":7,"j":12,"v":103},{"i":7,"j":13,"v":108},{"i":7,"j":14,"v":113},{"i":7,"j":15,"v":120},{"i":7,"j":16,"v":128},{"i":7,"j":17,"v":139},{"i":7,"j":18,"v":151},{"i":7,"j":19,"v":162},
{"i":8,"j":0,"v":10},{"i":8,"j":1,"v":28},{"i":8,"j":2,"v":50},{"i":8,"j":3,"v":62},{"i":8,"j":4,"v":69},{"i":8,"j":5,"v":73},{"i":8,"j":6,"v":76},{"i":8,"j":7,"v":77},{"i":8,"j":8,"v":78},{"i":8,"j":9,"v":79},{"i":8,"j":10,"v":80},{"i":8,"j":11,"v":83},{"i":8,"j":12,"v":88},{"i":8,"j":13,"v":95},{"i":8,"j":14,"v":107},{"i":8,"j":15,"v":114},{"i":8,"j":16,"v":123},{"i":8,"j":17,"v":136},{"i":8,"j":18,"v":150},{"i":8,"j":19,"v":161},
{"i":9,"j":0,"v":10},{"i":9,"j":1,"v":18},{"i":9,"j":2,"v":28},{"i":9,"j":3,"v":40},{"i":9,"j":4,"v":50},{"i":9,"j":5,"v":55},{"i":9,"j":6,"v":58},{"i":9,"j":7,"v":60},{"i":9,"j":8,"v":62},{"i":9,"j":9,"v":64},{"i":9,"j":10,"v":66},{"i":9,"j":11,"v":70},{"i":9,"j":12,"v":76},{"i":9,"j":13,"v":84},{"i":9,"j":14,"v":100},{"i":9,"j":15,"v":109},{"i":9,"j":16,"v":119},{"i":9,"j":17,"v":132},{"i":9,"j":18,"v":149},{"i":9,"j":19,"v":160}],
"p6":[{"i":0,"j":0,"v":165},{"i":0,"j":1,"v":165},{"i":0,"j":2,"v":165},{"i":0,"j":3,"v":165},{"i":0,"j":4,"v":165},{"i":0,"j":5,"v":165},{"i":0,"j":6,"v":165},{"i":0,"j":7,"v":165},{"i":0,"j":8,"v":165},{"i":0,"j":9,"v":165},{"i":0,"j":10,"v":165},{"i":0,"j":11,"v":165},{"i":0,"j":12,"v":165},{"i":0,"j":13,"v":165},{"i":0,"j":14,"v":165},{"i":0,"j":15,"v":165},{"i":0,"j":16,"v":165},{"i":0,"j":17,"v":165},{"i":0,"j":18,"v":165},{"i":0,"j":19,"v":165},
{"i":1,"j":0,"v":152},{"i":1,"j":1,"v":176},{"i":1,"j":2,"v":180},{"i":1,"j":3,"v":176},{"i":1,"j":4,"v":172},{"i":1,"j":5,"v":165},{"i":1,"j":6,"v":162},{"i":1,"j":7,"v":161},{"i":1,"j":8,"v":161},{"i":1,"j":9,"v":161},{"i":1,"j":10,"v":161},{"i":1,"j":11,"v":161},{"i":1,"j":12,"v":161},{"i":1,"j":13,"v":161},{"i":1,"j":14,"v":161},{"i":1,"j":15,"v":161},{"i":1,"j":16,"v":161},{"i":1,"j":17,"v":162},{"i":1,"j":18,"v":163},{"i":1,"j":19,"v":165},
{"i":2,"j":0,"v":129},{"i":2,"j":1,"v":178},{"i":2,"j":2,"v":183},{"i":2,"j":3,"v":176},{"i":2,"j":4,"v":172},{"i":2,"j":5,"v":160},{"i":2,"j":6,"v":155},{"i":2,"j":7,"v":153},{"i":2,"j":8,"v":152},{"i":2,"j":9,"v":152},{"i":2,"j":10,"v":151},{"i":2,"j":11,"v":151},{"i":2,"j":12,"v":152},{"i":2,"j":13,"v":153},{"i":2,"j":14,"v":154},{"i":2,"j":15,"v":155},{"i":2,"j":16,"v":156},{"i":2,"j":17,"v":157},{"i":2,"j":18,"v":159},{"i":2,"j":19,"v":165},
{"i":3,"j":0,"v":110},{"i":3,"j":1,"v":158},{"i":3,"j":2,"v":173},{"i":3,"j":3,"v":162},{"i":3,"j":4,"v":157},{"i":3,"j":5,"v":153},{"i":3,"j":6,"v":147},{"i":3,"j":7,"v":143},{"i":3,"j":8,"v":140},{"i":3,"j":9,"v":138},{"i":3,"j":10,"v":137},{"i":3,"j":11,"v":138},{"i":3,"j":12,"v":139},{"i":3,"j":13,"v":141},{"i":3,"j":14,"v":144},{"i":3,"j":15,"v":147},{"i":3,"j":16,"v":150},{"i":3,"j":17,"v":154},{"i":3,"j":18,"v":158},{"i":3,"j":19,"v":164},
{"i":4,"j":0,"v":102},{"i":4,"j":1,"v":155},{"i":4,"j":2,"v":162},{"i":4,"j":3,"v":157},{"i":4,"j":4,"v":151},{"i":4,"j":5,"v":146},{"i":4,"j":6,"v":141},{"i":4,"j":7,"v":136},{"i":4,"j":8,"v":133},{"i":4,"j":9,"v":130},{"i":4,"j":10,"v":128},{"i":4,"j":11,"v":127},{"i":4,"j":12,"v":128},{"i":4,"j":13,"v":130},{"i":4,"j":14,"v":133},{"i":4,"j":15,"v":137},{"i":4,"j":16,"v":142},{"i":4,"j":17,"v":149},{"i":4,"j":18,"v":155},{"i":4,"j":19,"v":164},
{"i":5,"j":0,"v":88},{"i":5,"j":1,"v":143},{"i":5,"j":2,"v":150},{"i":5,"j":3,"v":146},{"i":5,"j":4,"v":140},{"i":5,"j":5,"v":136},{"i":5,"j":6,"v":131},{"i":5,"j":7,"v":127},{"i":5,"j":8,"v":124},{"i":5,"j":9,"v":120},{"i":5,"j":10,"v":118},{"i":5,"j":11,"v":117},{"i":5,"j":12,"v":118},{"i":5,"j":13,"v":120},{"i":5,"j":14,"v":124},{"i":5,"j":15,"v":128},{"i":5,"j":16,"v":134},{"i":5,"j":17,"v":143},{"i":5,"j":18,"v":152},{"i":5,"j":19,"v":163},
{"i":6,"j":0,"v":66},{"i":6,"j":1,"v":128},{"i":6,"j":2,"v":136},{"i":6,"j":3,"v":130},{"i":6,"j":4,"v":125},{"i":6,"j":5,"v":122},{"i":6,"j":6,"v":118},{"i":6,"j":7,"v":114},{"i":6,"j":8,"v":110},{"i":6,"j":9,"v":108},{"i":6,"j":10,"v":107},{"i":6,"j":11,"v":107},{"i":6,"j":12,"v":109},{"i":6,"j":13,"v":112},{"i":6,"j":14,"v":116},{"i":6,"j":15,"v":121},{"i":6,"j":16,"v":128},{"i":6,"j":17,"v":139},{"i":6,"j":18,"v":151},{"i":6,"j":19,"v":163},
{"i":7,"j":0,"v":35},{"i":7,"j":1,"v":105},{"i":7,"j":2,"v":118},{"i":7,"j":3,"v":115},{"i":7,"j":4,"v":112},{"i":7,"j":5,"v":108},{"i":7,"j":6,"v":103},{"i":7,"j":7,"v":98},{"i":7,"j":8,"v":96},{"i":7,"j":9,"v":95},{"i":7,"j":10,"v":97},{"i":7,"j":11,"v":100},{"i":7,"j":12,"v":104},{"i":7,"j":13,"v":108},{"i":7,"j":14,"v":112},{"i":7,"j":15,"v":118},{"i":7,"j":16,"v":126},{"i":7,"j":17,"v":137},{"i":7,"j":18,"v":150},{"i":7,"j":19,"v":162},
{"i":8,"j":0,"v":15},{"i":8,"j":1,"v":90},{"i":8,"j":2,"v":100},{"i":8,"j":3,"v":100},{"i":8,"j":4,"v":95},{"i":8,"j":5,"v":90},{"i":8,"j":6,"v":85},{"i":8,"j":7,"v":82},{"i":8,"j":8,"v":80},{"i":8,"j":9,"v":80},{"i":8,"j":10,"v":80},{"i":8,"j":11,"v":82},{"i":8,"j":12,"v":85},{"i":8,"j":13,"v":92},{"i":8,"j":14,"v":102},{"i":8,"j":15,"v":110},{"i":8,"j":16,"v":120},{"i":8,"j":17,"v":133},{"i":8,"j":18,"v":149},{"i":8,"j":19,"v":162},
{"i":9,"j":0,"v":10},{"i":9,"j":1,"v":68},{"i":9,"j":2,"v":82},{"i":9,"j":3,"v":78},{"i":9,"j":4,"v":72},{"i":9,"j":5,"v":65},{"i":9,"j":6,"v":62},{"i":9,"j":7,"v":60},{"i":9,"j":8,"v":60},{"i":9,"j":9,"v":60},{"i":9,"j":10,"v":68},{"i":9,"j":11,"v":74},{"i":9,"j":12,"v":82},{"i":9,"j":13,"v":92},{"i":9,"j":14,"v":102},{"i":9,"j":15,"v":110},{"i":9,"j":16,"v":118},{"i":9,"j":17,"v":131},{"i":9,"j":18,"v":148},{"i":9,"j":19,"v":161}],
"p7":[{"i":0,"j":0,"v":162},{"i":0,"j":1,"v":165},{"i":0,"j":2,"v":165},{"i":0,"j":3,"v":165},{"i":0,"j":4,"v":165},{"i":0,"j":5,"v":164},{"i":0,"j":6,"v":164},{"i":0,"j":7,"v":164},{"i":0,"j":8,"v":164},{"i":0,"j":9,"v":164},{"i":0,"j":10,"v":164},{"i":0,"j":11,"v":164},{"i":0,"j":12,"v":164},{"i":0,"j":13,"v":164},{"i":0,"j":14,"v":164},{"i":0,"j":15,"v":164},{"i":0,"j":16,"v":164},{"i":0,"j":17,"v":164},{"i":0,"j":18,"v":164},{"i":0,"j":19,"v":165},
{"i":1,"j":0,"v":155},{"i":1,"j":1,"v":185},{"i":1,"j":2,"v":190},{"i":1,"j":3,"v":183},{"i":1,"j":4,"v":176},{"i":1,"j":5,"v":167},{"i":1,"j":6,"v":163},{"i":1,"j":7,"v":161},{"i":1,"j":8,"v":160},{"i":1,"j":9,"v":160},{"i":1,"j":10,"v":160},{"i":1,"j":11,"v":160},{"i":1,"j":12,"v":160},{"i":1,"j":13,"v":160},{"i":1,"j":14,"v":160},{"i":1,"j":15,"v":160},{"i":1,"j":16,"v":161},{"i":1,"j":17,"v":162},{"i":1,"j":18,"v":163},{"i":1,"j":19,"v":165},
{"i":2,"j":0,"v":140},{"i":2,"j":1,"v":185},{"i":2,"j":2,"v":192},{"i":2,"j":3,"v":183},{"i":2,"j":4,"v":174},{"i":2,"j":5,"v":164},{"i":2,"j":6,"v":158},{"i":2,"j":7,"v":155},{"i":2,"j":8,"v":153},{"i":2,"j":9,"v":152},{"i":2,"j":10,"v":152},{"i":2,"j":11,"v":152},{"i":2,"j":12,"v":152},{"i":2,"j":13,"v":153},{"i":2,"j":14,"v":154},{"i":2,"j":15,"v":155},{"i":2,"j":16,"v":156},{"i":2,"j":17,"v":158},{"i":2,"j":18,"v":160},{"i":2,"j":19,"v":165},
{"i":3,"j":0,"v":120},{"i":3,"j":1,"v":176},{"i":3,"j":2,"v":182},{"i":3,"j":3,"v":174},{"i":3,"j":4,"v":165},{"i":3,"j":5,"v":157},{"i":3,"j":6,"v":151},{"i":3,"j":7,"v":147},{"i":3,"j":8,"v":144},{"i":3,"j":9,"v":142},{"i":3,"j":10,"v":141},{"i":3,"j":11,"v":141},{"i":3,"j":12,"v":142},{"i":3,"j":13,"v":143},{"i":3,"j":14,"v":145},{"i":3,"j":15,"v":148},{"i":3,"j":16,"v":151},{"i":3,"j":17,"v":155},{"i":3,"j":18,"v":158},{"i":3,"j":19,"v":164},
{"i":4,"j":0,"v":110},{"i":4,"j":1,"v":165},{"i":4,"j":2,"v":172},{"i":4,"j":3,"v":164},{"i":4,"j":4,"v":156},{"i":4,"j":5,"v":151},{"i":4,"j":6,"v":145},{"i":4,"j":7,"v":140},{"i":4,"j":8,"v":137},{"i":4,"j":9,"v":134},{"i":4,"j":10,"v":132},{"i":4,"j":11,"v":131},{"i":4,"j":12,"v":132},{"i":4,"j":13,"v":133},{"i":4,"j":14,"v":135},{"i":4,"j":15,"v":138},{"i":4,"j":16,"v":143},{"i":4,"j":17,"v":149},{"i":4,"j":18,"v":155},{"i":4,"j":19,"v":164},
{"i":5,"j":0,"v":90},{"i":5,"j":1,"v":152},{"i":5,"j":2,"v":160},{"i":5,"j":3,"v":157},{"i":5,"j":4,"v":149},{"i":5,"j":5,"v":143},{"i":5,"j":6,"v":136},{"i":5,"j":7,"v":131},{"i":5,"j":8,"v":127},{"i":5,"j":9,"v":124},{"i":5,"j":10,"v":122},{"i":5,"j":11,"v":121},{"i":5,"j":12,"v":122},{"i":5,"j":13,"v":124},{"i":5,"j":14,"v":127},{"i":5,"j":15,"v":131},{"i":5,"j":16,"v":137},{"i":5,"j":17,"v":145},{"i":5,"j":18,"v":153},{"i":5,"j":19,"v":163},
{"i":6,"j":0,"v":68},{"i":6,"j":1,"v":135},{"i":6,"j":2,"v":143},{"i":6,"j":3,"v":138},{"i":6,"j":4,"v":132},{"i":6,"j":5,"v":127},{"i":6,"j":6,"v":122},{"i":6,"j":7,"v":117},{"i":6,"j":8,"v":113},{"i":6,"j":9,"v":108},{"i":6,"j":10,"v":105},{"i":6,"j":11,"v":105},{"i":6,"j":12,"v":108},{"i":6,"j":13,"v":112},{"i":6,"j":14,"v":117},{"i":6,"j":15,"v":122},{"i":6,"j":16,"v":129},{"i":6,"j":17,"v":140},{"i":6,"j":18,"v":151},{"i":6,"j":19,"v":163},
{"i":7,"j":0,"v":46},{"i":7,"j":1,"v":118},{"i":7,"j":2,"v":125},{"i":7,"j":3,"v":121},{"i":7,"j":4,"v":105},{"i":7,"j":5,"v":99},{"i":7,"j":6,"v":95},{"i":7,"j":7,"v":92},{"i":7,"j":8,"v":90},{"i":7,"j":9,"v":88},{"i":7,"j":10,"v":88},{"i":7,"j":11,"v":92},{"i":7,"j":12,"v":99},{"i":7,"j":13,"v":106},{"i":7,"j":14,"v":113},{"i":7,"j":15,"v":120},{"i":7,"j":16,"v":128},{"i":7,"j":17,"v":138},{"i":7,"j":18,"v":150},{"i":7,"j":19,"v":162},
{"i":8,"j":0,"v":20},{"i":8,"j":1,"v":92},{"i":8,"j":2,"v":97},{"i":8,"j":3,"v":96},{"i":8,"j":4,"v":92},{"i":8,"j":5,"v":87},{"i":8,"j":6,"v":84},{"i":8,"j":7,"v":81},{"i":8,"j":8,"v":80},{"i":8,"j":9,"v":79},{"i":8,"j":10,"v":80},{"i":8,"j":11,"v":84},{"i":8,"j":12,"v":91},{"i":8,"j":13,"v":98},{"i":8,"j":14,"v":106},{"i":8,"j":15,"v":114},{"i":8,"j":16,"v":123},{"i":8,"j":17,"v":135},{"i":8,"j":18,"v":149},{"i":8,"j":19,"v":162},
{"i":9,"j":0,"v":10},{"i":9,"j":1,"v":66},{"i":9,"j":2,"v":78},{"i":9,"j":3,"v":74},{"i":9,"j":4,"v":70},{"i":9,"j":5,"v":66},{"i":9,"j":6,"v":64},{"i":9,"j":7,"v":62},{"i":9,"j":8,"v":62},{"i":9,"j":9,"v":62},{"i":9,"j":10,"v":63},{"i":9,"j":11,"v":65},{"i":9,"j":12,"v":72},{"i":9,"j":13,"v":85},{"i":9,"j":14,"v":98},{"i":9,"j":15,"v":108},{"i":9,"j":16,"v":118},{"i":9,"j":17,"v":132},{"i":9,"j":18,"v":148},{"i":9,"j":19,"v":160}],
"p8":[{"i":0,"j":0,"v":163},{"i":1,"j":0,"v":190},{"i":2,"j":0,"v":185},{"i":3,"j":0,"v":165},{"i":4,"j":0,"v":150},{"i":5,"j":0,"v":128},{"i":6,"j":0,"v":108},{"i":7,"j":0,"v":80},{"i":8,"j":0,"v":55},{"i":9,"j":0,"v":30},
{"i":0,"j":1,"v":176},{"i":1,"j":1,"v":205},{"i":2,"j":1,"v":212},{"i":3,"j":1,"v":208},{"i":4,"j":1,"v":192},{"i":5,"j":1,"v":176},{"i":6,"j":1,"v":154},{"i":7,"j":1,"v":130},{"i":8,"j":1,"v":108},{"i":9,"j":1,"v":92},
{"i":0,"j":2,"v":178},{"i":1,"j":2,"v":206},{"i":2,"j":2,"v":214},{"i":3,"j":2,"v":206},{"i":4,"j":2,"v":192},{"i":5,"j":2,"v":174},{"i":6,"j":2,"v":153},{"i":7,"j":2,"v":128},{"i":8,"j":2,"v":111},{"i":9,"j":2,"v":95},
{"i":0,"j":3,"v":172},{"i":1,"j":3,"v":198},{"i":2,"j":3,"v":201},{"i":3,"j":3,"v":192},{"i":4,"j":3,"v":180},{"i":5,"j":3,"v":166},{"i":6,"j":3,"v":148},{"i":7,"j":3,"v":125},{"i":8,"j":3,"v":106},{"i":9,"j":3,"v":90},
{"i":0,"j":4,"v":168},{"i":1,"j":4,"v":180},{"i":2,"j":4,"v":180},{"i":3,"j":4,"v":175},{"i":4,"j":4,"v":165},{"i":5,"j":4,"v":152},{"i":6,"j":4,"v":137},{"i":7,"j":4,"v":116},{"i":8,"j":4,"v":101},{"i":9,"j":4,"v":85},
{"i":0,"j":5,"v":165},{"i":1,"j":5,"v":176},{"i":2,"j":5,"v":175},{"i":3,"j":5,"v":158},{"i":4,"j":5,"v":150},{"i":5,"j":5,"v":143},{"i":6,"j":5,"v":128},{"i":7,"j":5,"v":110},{"i":8,"j":5,"v":92},{"i":9,"j":5,"v":80},
{"i":0,"j":6,"v":164},{"i":1,"j":6,"v":168},{"i":2,"j":6,"v":158},{"i":3,"j":6,"v":150},{"i":4,"j":6,"v":144},{"i":5,"j":6,"v":136},{"i":6,"j":6,"v":122},{"i":7,"j":6,"v":104},{"i":8,"j":6,"v":88},{"i":9,"j":6,"v":76},
{"i":0,"j":7,"v":163},{"i":1,"j":7,"v":165},{"i":2,"j":7,"v":154},{"i":3,"j":7,"v":146},{"i":4,"j":7,"v":139},{"i":5,"j":7,"v":130},{"i":6,"j":7,"v":116},{"i":7,"j":7,"v":98},{"i":8,"j":7,"v":85},{"i":9,"j":7,"v":73},
{"i":0,"j":8,"v":163},{"i":1,"j":8,"v":164},{"i":2,"j":8,"v":154},{"i":3,"j":8,"v":144},{"i":4,"j":8,"v":136},{"i":5,"j":8,"v":125},{"i":6,"j":8,"v":111},{"i":7,"j":8,"v":94},{"i":8,"j":8,"v":82},{"i":9,"j":8,"v":70},
{"i":0,"j":9,"v":163},{"i":1,"j":9,"v":164},{"i":2,"j":9,"v":153},{"i":3,"j":9,"v":142},{"i":4,"j":9,"v":133},{"i":5,"j":9,"v":121},{"i":6,"j":9,"v":106},{"i":7,"j":9,"v":92},{"i":8,"j":9,"v":79},{"i":9,"j":9,"v":68},
{"i":0,"j":10,"v":163},{"i":1,"j":10,"v":164},{"i":2,"j":10,"v":153},{"i":3,"j":10,"v":141},{"i":4,"j":10,"v":131},{"i":5,"j":10,"v":119},{"i":6,"j":10,"v":103},{"i":7,"j":10,"v":91},{"i":8,"j":10,"v":77},{"i":9,"j":10,"v":65},
{"i":0,"j":11,"v":163},{"i":1,"j":11,"v":164},{"i":2,"j":11,"v":153},{"i":3,"j":11,"v":141},{"i":4,"j":11,"v":130},{"i":5,"j":11,"v":118},{"i":6,"j":11,"v":105},{"i":7,"j":11,"v":92},{"i":8,"j":11,"v":78},{"i":9,"j":11,"v":66},
{"i":0,"j":12,"v":163},{"i":1,"j":12,"v":164},{"i":2,"j":12,"v":153},{"i":3,"j":12,"v":142},{"i":4,"j":12,"v":131},{"i":5,"j":12,"v":120},{"i":6,"j":12,"v":108},{"i":7,"j":12,"v":98},{"i":8,"j":12,"v":88},{"i":9,"j":12,"v":68},
{"i":0,"j":13,"v":163},{"i":1,"j":13,"v":164},{"i":2,"j":13,"v":154},{"i":3,"j":13,"v":143},{"i":4,"j":13,"v":133},{"i":5,"j":13,"v":124},{"i":6,"j":13,"v":112},{"i":7,"j":13,"v":102},{"i":8,"j":13,"v":97},{"i":9,"j":13,"v":75},
{"i":0,"j":14,"v":163},{"i":1,"j":14,"v":164},{"i":2,"j":14,"v":155},{"i":3,"j":14,"v":145},{"i":4,"j":14,"v":136},{"i":5,"j":14,"v":128},{"i":6,"j":14,"v":117},{"i":7,"j":14,"v":108},{"i":8,"j":14,"v":103},{"i":9,"j":14,"v":98},
{"i":0,"j":15,"v":163},{"i":1,"j":15,"v":164},{"i":2,"j":15,"v":156},{"i":3,"j":15,"v":148},{"i":4,"j":15,"v":140},{"i":5,"j":15,"v":134},{"i":6,"j":15,"v":124},{"i":7,"j":15,"v":116},{"i":8,"j":15,"v":110},{"i":9,"j":15,"v":106},
{"i":0,"j":16,"v":163},{"i":1,"j":16,"v":164},{"i":2,"j":16,"v":157},{"i":3,"j":16,"v":152},{"i":4,"j":16,"v":146},{"i":5,"j":16,"v":140},{"i":6,"j":16,"v":131},{"i":7,"j":16,"v":124},{"i":8,"j":16,"v":118},{"i":9,"j":16,"v":113},
{"i":0,"j":17,"v":163},{"i":1,"j":17,"v":164},{"i":2,"j":17,"v":159},{"i":3,"j":17,"v":156},{"i":4,"j":17,"v":152},{"i":5,"j":17,"v":147},{"i":6,"j":17,"v":141},{"i":7,"j":17,"v":134},{"i":8,"j":17,"v":128},{"i":9,"j":17,"v":124},
{"i":0,"j":18,"v":163},{"i":1,"j":18,"v":164},{"i":2,"j":18,"v":161},{"i":3,"j":18,"v":159},{"i":4,"j":18,"v":158},{"i":5,"j":18,"v":155},{"i":6,"j":18,"v":152},{"i":7,"j":18,"v":150},{"i":8,"j":18,"v":149},{"i":9,"j":18,"v":147},
{"i":0,"j":19,"v":164},{"i":1,"j":19,"v":165},{"i":2,"j":19,"v":165},{"i":3,"j":19,"v":165},{"i":4,"j":19,"v":164},{"i":5,"j":19,"v":164},{"i":6,"j":19,"v":163},{"i":7,"j":19,"v":163},{"i":8,"j":19,"v":162},{"i":9,"j":19,"v":161}],
"p9":[{"i":0,"j":0,"v":185},{"i":1,"j":0,"v":215},{"i":2,"j":0,"v":225},{"i":3,"j":0,"v":205},{"i":4,"j":0,"v":180},{"i":5,"j":0,"v":157},{"i":6,"j":0,"v":128},{"i":7,"j":0,"v":105},{"i":8,"j":0,"v":80},{"i":9,"j":0,"v":52},
{"i":0,"j":1,"v":198},{"i":1,"j":1,"v":225},{"i":2,"j":1,"v":240},{"i":3,"j":1,"v":232},{"i":4,"j":1,"v":215},{"i":5,"j":1,"v":197},{"i":6,"j":1,"v":175},{"i":7,"j":1,"v":151},{"i":8,"j":1,"v":125},{"i":9,"j":1,"v":101},
{"i":0,"j":2,"v":180},{"i":1,"j":2,"v":215},{"i":2,"j":2,"v":235},{"i":3,"j":2,"v":220},{"i":4,"j":2,"v":205},{"i":5,"j":2,"v":190},{"i":6,"j":2,"v":170},{"i":7,"j":2,"v":147},{"i":8,"j":2,"v":122},{"i":9,"j":2,"v":100},
{"i":0,"j":3,"v":176},{"i":1,"j":3,"v":205},{"i":2,"j":3,"v":210},{"i":3,"j":3,"v":205},{"i":4,"j":3,"v":192},{"i":5,"j":3,"v":177},{"i":6,"j":3,"v":160},{"i":7,"j":3,"v":140},{"i":8,"j":3,"v":114},{"i":9,"j":3,"v":95},
{"i":0,"j":4,"v":172},{"i":1,"j":4,"v":192},{"i":2,"j":4,"v":190},{"i":3,"j":4,"v":183},{"i":4,"j":4,"v":172},{"i":5,"j":4,"v":155},{"i":6,"j":4,"v":143},{"i":7,"j":4,"v":124},{"i":8,"j":4,"v":105},{"i":9,"j":4,"v":88},
{"i":0,"j":5,"v":167},{"i":1,"j":5,"v":176},{"i":2,"j":5,"v":176},{"i":3,"j":5,"v":175},{"i":4,"j":5,"v":155},{"i":5,"j":5,"v":145},{"i":6,"j":5,"v":131},{"i":7,"j":5,"v":112},{"i":8,"j":5,"v":95},{"i":9,"j":5,"v":82},
{"i":0,"j":6,"v":165},{"i":1,"j":6,"v":170},{"i":2,"j":6,"v":165},{"i":3,"j":6,"v":154},{"i":4,"j":6,"v":147},{"i":5,"j":6,"v":137},{"i":6,"j":6,"v":122},{"i":7,"j":6,"v":105},{"i":8,"j":6,"v":89},{"i":9,"j":6,"v":77},
{"i":0,"j":7,"v":165},{"i":1,"j":7,"v":166},{"i":2,"j":7,"v":159},{"i":3,"j":7,"v":148},{"i":4,"j":7,"v":140},{"i":5,"j":7,"v":130},{"i":6,"j":7,"v":116},{"i":7,"j":7,"v":99},{"i":8,"j":7,"v":85},{"i":9,"j":7,"v":73},
{"i":0,"j":8,"v":165},{"i":1,"j":8,"v":165},{"i":2,"j":8,"v":155},{"i":3,"j":8,"v":145},{"i":4,"j":8,"v":136},{"i":5,"j":8,"v":125},{"i":6,"j":8,"v":110},{"i":7,"j":8,"v":95},{"i":8,"j":8,"v":82},{"i":9,"j":8,"v":70},
{"i":0,"j":9,"v":165},{"i":1,"j":9,"v":165},{"i":2,"j":9,"v":154},{"i":3,"j":9,"v":143},{"i":4,"j":9,"v":133},{"i":5,"j":9,"v":121},{"i":6,"j":9,"v":106},{"i":7,"j":9,"v":92},{"i":8,"j":9,"v":79},{"i":9,"j":9,"v":66},
{"i":0,"j":10,"v":165},{"i":1,"j":10,"v":165},{"i":2,"j":10,"v":154},{"i":3,"j":10,"v":142},{"i":4,"j":10,"v":131},{"i":5,"j":10,"v":119},{"i":6,"j":10,"v":104},{"i":7,"j":10,"v":90},{"i":8,"j":10,"v":77},{"i":9,"j":10,"v":64},
{"i":0,"j":11,"v":165},{"i":1,"j":11,"v":165},{"i":2,"j":11,"v":154},{"i":3,"j":11,"v":142},{"i":4,"j":11,"v":131},{"i":5,"j":11,"v":119},{"i":6,"j":11,"v":105},{"i":7,"j":11,"v":94},{"i":8,"j":11,"v":80},{"i":9,"j":11,"v":66},
{"i":0,"j":12,"v":165},{"i":1,"j":12,"v":165},{"i":2,"j":12,"v":154},{"i":3,"j":12,"v":143},{"i":4,"j":12,"v":132},{"i":5,"j":12,"v":121},{"i":6,"j":12,"v":108},{"i":7,"j":12,"v":98},{"i":8,"j":12,"v":87},{"i":9,"j":12,"v":70},
{"i":0,"j":13,"v":165},{"i":1,"j":13,"v":165},{"i":2,"j":13,"v":155},{"i":3,"j":13,"v":144},{"i":4,"j":13,"v":134},{"i":5,"j":13,"v":124},{"i":6,"j":13,"v":113},{"i":7,"j":13,"v":103},{"i":8,"j":13,"v":98},{"i":9,"j":13,"v":78},
{"i":0,"j":14,"v":165},{"i":1,"j":14,"v":165},{"i":2,"j":14,"v":156},{"i":3,"j":14,"v":146},{"i":4,"j":14,"v":137},{"i":5,"j":14,"v":129},{"i":6,"j":14,"v":118},{"i":7,"j":14,"v":110},{"i":8,"j":14,"v":105},{"i":9,"j":14,"v":97},
{"i":0,"j":15,"v":165},{"i":1,"j":15,"v":165},{"i":2,"j":15,"v":157},{"i":3,"j":15,"v":149},{"i":4,"j":15,"v":142},{"i":5,"j":15,"v":135},{"i":6,"j":15,"v":125},{"i":7,"j":15,"v":118},{"i":8,"j":15,"v":112},{"i":9,"j":15,"v":108},
{"i":0,"j":16,"v":165},{"i":1,"j":16,"v":165},{"i":2,"j":16,"v":158},{"i":3,"j":16,"v":153},{"i":4,"j":16,"v":147},{"i":5,"j":16,"v":141},{"i":6,"j":16,"v":133},{"i":7,"j":16,"v":126},{"i":8,"j":16,"v":120},{"i":9,"j":16,"v":116},
{"i":0,"j":17,"v":165},{"i":1,"j":17,"v":165},{"i":2,"j":17,"v":160},{"i":3,"j":17,"v":157},{"i":4,"j":17,"v":153},{"i":5,"j":17,"v":148},{"i":6,"j":17,"v":142},{"i":7,"j":17,"v":136},{"i":8,"j":17,"v":130},{"i":9,"j":17,"v":126},
{"i":0,"j":18,"v":165},{"i":1,"j":18,"v":165},{"i":2,"j":18,"v":162},{"i":3,"j":18,"v":160},{"i":4,"j":18,"v":158},{"i":5,"j":18,"v":156},{"i":6,"j":18,"v":153},{"i":7,"j":18,"v":150},{"i":8,"j":18,"v":149},{"i":9,"j":18,"v":148},
{"i":0,"j":19,"v":165},{"i":1,"j":19,"v":165},{"i":2,"j":19,"v":165},{"i":3,"j":19,"v":165},{"i":4,"j":19,"v":165},{"i":5,"j":19,"v":164},{"i":6,"j":19,"v":164},{"i":7,"j":19,"v":163},{"i":8,"j":19,"v":163},{"i":9,"j":19,"v":162}],
"c0":[{"k":1,"g":0.059,"q":0.012},{"k":1,"g":0.143,"q":0.086},{"k":1,"g":0.226,"q":0.146},{"k":1,"g":0.321,"q":0.196},{"k":2,"g":0.633,"q":0.332},{"k":2,"g":0.723,"q":0.36},{"k":2,"g":0.828,"q":0.39},{"k":2,"g":0.904,"q":0.411},{"k":2,"g":0.99,"q":0.434},{"k":3,"g":0.279,"q":0.011},{"k":3,"g":0.34,"q":0.028},{"k":3,"g":0.407,"q":0.041},{"k":3,"g":0.484,"q":0.048},{"k":4,"g":0.843,"q":0.086},{"k":4,"g":0.99,"q":0.102}],
"c1":[{"k":1,"g":0.046,"q":0.012},{"k":1,"g":0.052,"q":0.109},{"k":1,"g":0.061,"q":0.293},{"k":1,"g":0.076,"q":0.459},{"k":1,"g":0.098,"q":0.556},{"k":2,"g":0.22,"q":0.8},{"k":2,"g":0.272,"q":0.84},{"k":2,"g":0.338,"q":0.869},{"k":2,"g":0.415,"q":0.897},{"k":2,"g":0.495,"q":0.912},{"k":2,"g":0.606,"q":0.933},{"k":2,"g":0.721,"q":0.943},{"k":2,"g":0.836,"q":0.95},{"k":2,"g":0.99,"q":0.957},{"k":3,"g":0.205,"q":0.012},{"k":3,"g":0.233,"q":0.127},{"k":3,"g":0.272,"q":0.275},{"k":3,"g":0.333,"q":0.41},{"k":4,"g":0.53,"q":0.63},{"k":4,"g":0.644,"q":0.699},{"k":4,"g":0.74,"q":0.74},{"k":4,"g":0.855,"q":0.774},{"k":4,"g":0.99,"q":0.803},{"k":5,"g":0.43,"q":0.012},{"k":5,"g":0.476,"q":0.118},{"k":5,"g":0.52,"q":0.192},{"k":5,"g":0.562,"q":0.261},{"k":6,"g":0.774,"q":0.473},{"k":6,"g":0.836,"q":0.505},{"k":6,"g":0.912,"q":0.547},{"k":6,"g":0.99,"q":0.586}],
"c2":[{"k":1,"g":0.044,"q":0.012},{"k":1,"g":0.054,"q":0.182},{"k":1,"g":0.073,"q":0.358},{"k":1,"g":0.086,"q":0.45},{"k":1,"g":0.107,"q":0.556},{"k":2,"g":0.241,"q":0.796},{"k":2,"g":0.297,"q":0.837},{"k":2,"g":0.335,"q":0.855},{"k":2,"g":0.44,"q":0.892},{"k":2,"g":0.556,"q":0.918},{"k":2,"g":0.67,"q":0.932},{"k":2,"g":0.824,"q":0.946},{"k":2,"g":0.99,"q":0.955},{"k":3,"g":0.205,"q":0.012},{"k":3,"g":0.239,"q":0.146},{"k":3,"g":0.284,"q":0.275},{"k":3,"g":0.33,"q":0.358},{"k":4,"g":0.517,"q":0.581},{"k":4,"g":0.594,"q":0.634},{"k":4,"g":0.68,"q":0.68},{"k":4,"g":0.766,"q":0.717},{"k":4,"g":0.872,"q":0.751},{"k":4,"g":0.99,"q":0.78},{"k":5,"g":0.435,"q":0.012},{"k":5,"g":0.489,"q":0.113},{"k":5,"g":0.556,"q":0.21},{"k":6,"g":0.77,"q":0.419},{"k":6,"g":0.862,"q":0.482},{"k":6,"g":0.99,"q":0.542}],
"c3":[{"k":1,"g":0.046,"q":0.012},{"k":1,"g":0.069,"q":0.2},{"k":1,"g":0.092,"q":0.358},{"k":1,"g":0.117,"q":0.477},{"k":1,"g":0.136,"q":0.556},{"k":2,"g":0.27,"q":0.796},{"k":2,"g":0.328,"q":0.841},{"k":2,"g":0.443,"q":0.888},{"k":2,"g":0.548,"q":0.912},{"k":2,"g":0.682,"q":0.933},{"k":2,"g":0.835,"q":0.947},{"k":2,"g":0.99,"q":0.954},{"k":3,"g":0.209,"q":0.012},{"k":3,"g":0.299,"q":0.164},{"k":3,"g":0.347,"q":0.238},{"k":3,"g":0.387,"q":0.31},{"k":4,"g":0.577,"q":0.533},{"k":4,"g":0.701,"q":0.634},{"k":4,"g":0.787,"q":0.68},{"k":4,"g":0.874,"q":0.717},{"k":4,"g":0.99,"q":0.756},{"k":5,"g":0.439,"q":0.012},{"k":5,"g":0.561,"q":0.118},{"k":6,"g":0.806,"q":0.312},{"k":6,"g":0.931,"q":0.376},{"k":6,"g":0.99,"q":0.431}],
"c4":[{"k":1,"g":0.05,"q":0.012},{"k":1,"g":0.103,"q":0.182},{"k":1,"g":0.121,"q":0.275},{"k":1,"g":0.131,"q":0.348},{"k":1,"g":0.144,"q":0.45},{"k":1,"g":0.165,"q":0.556},{"k":2,"g":0.29,"q":0.797},{"k":2,"g":0.344,"q":0.839},{"k":2,"g":0.453,"q":0.883},{"k":2,"g":0.54,"q":0.906},{"k":2,"g":0.653,"q":0.924},{"k":2,"g":0.753,"q":0.935},{"k":2,"g":0.865,"q":0.946},{"k":2,"g":0.99,"q":0.952},{"k":3,"g":0.221,"q":0.012},{"k":3,"g":0.34,"q":0.104},{"k":3,"g":0.415,"q":0.164},{"k":3,"g":0.459,"q":0.21},{"k":3,"g":0.486,"q":0.252},{"k":4,"g":0.64,"q":0.491},{"k":4,"g":0.715,"q":0.579},{"k":4,"g":0.778,"q":0.63},{"k":4,"g":0.878,"q":0.687},{"k":4,"g":0.99,"q":0.735},{"k":5,"g":0.463,"q":0.012},{"k":5,"g":0.553,"q":0.046},{"k":5,"g":0.621,"q":0.067},{"k":6,"g":0.913,"q":0.219},{"k":6,"g":0.99,"q":0.279}],
"c5":[{"k":1,"g":0.059,"q":0.011},{"k":1,"g":0.102,"q":0.057},{"k":1,"g":0.178,"q":0.117},{"k":1,"g":0.212,"q":0.163},{"k":1,"g":0.218,"q":0.223},{"k":1,"g":0.197,"q":0.319},{"k":1,"g":0.174,"q":0.411},{"k":1,"g":0.172,"q":0.485},{"k":1,"g":0.178,"q":0.554},{"k":2,"g":0.298,"q":0.796},{"k":2,"g":0.354,"q":0.838},{"k":2,"g":0.446,"q":0.879},{"k":2,"g":0.541,"q":0.903},{"k":2,"g":0.675,"q":0.925},{"k":2,"g":0.828,"q":0.94},{"k":2,"g":0.99,"q":0.949},{"k":3,"g":0.254,"q":0.011},{"k":3,"g":0.34,"q":0.04},{"k":3,"g":0.455,"q":0.063},{"k":3,"g":0.579,"q":0.115},{"k":3,"g":0.637,"q":0.165},{"k":3,"g":0.65,"q":0.19},{"k":4,"g":0.681,"q":0.45},{"k":4,"g":0.713,"q":0.531},{"k":4,"g":0.761,"q":0.586},{"k":4,"g":0.818,"q":0.637},{"k":4,"g":0.895,"q":0.68},{"k":4,"g":0.99,"q":0.724},{"k":5,"g":0.537,"q":0.011},{"k":5,"g":0.595,"q":0.02},{"k":6,"g":0.943,"q":0.091},{"k":6,"g":0.99,"q":0.11}],
"c6":[{"k":1,"g":0.99,"q":0.949},{"k":1,"g":0.855,"q":0.941},{"k":1,"g":0.663,"q":0.922},{"k":1,"g":0.501,"q":0.895},{"k":1,"g":0.358,"q":0.842},{"k":1,"g":0.285,"q":0.784},{"k":1,"g":0.243,"q":0.724},{"k":1,"g":0.214,"q":0.669},{"k":1,"g":0.195,"q":0.606},{"k":2,"g":0.262,"q":0.356},{"k":2,"g":0.296,"q":0.319},{"k":2,"g":0.377,"q":0.273},{"k":2,"g":0.444,"q":0.236},{"k":2,"g":0.539,"q":0.167},{"k":2,"g":0.564,"q":0.115},{"k":2,"g":0.505,"q":0.063},{"k":2,"g":0.338,"q":0.043},{"k":2,"g":0.176,"q":0.011},{"k":3,"g":0.99,"q":0.715},{"k":3,"g":0.912,"q":0.678},{"k":3,"g":0.836,"q":0.63},{"k":3,"g":0.778,"q":0.577},{"k":3,"g":0.744,"q":0.522},{"k":3,"g":0.732,"q":0.445},{"k":4,"g":0.864,"q":0.202},{"k":4,"g":0.881,"q":0.163},{"k":4,"g":0.878,"q":0.115},{"k":4,"g":0.813,"q":0.063},{"k":4,"g":0.459,"q":0.011},{"k":5,"g":0.813,"q":0.011},{"k":5,"g":0.99,"q":0.039},{"k":6,"g":0.119,"q":0.172},{"k":6,"g":0.228,"q":0.168},{"k":6,"g":0.325,"q":0.115},{"k":6,"g":0.262,"q":0.063},{"k":6,"g":0.119,"q":0.052},{"k":6,"g":0.08,"q":0.063},{"k":6,"g":0.075,"q":0.115},{"k":6,"g":0.119,"q":0.172}],
"c7":[{"k":1,"g":0.988,"q":0.952},{"k":1,"g":0.8,"q":0.94},{"k":1,"g":0.663,"q":0.925},{"k":1,"g":0.55,"q":0.908},{"k":1,"g":0.45,"q":0.887},{"k":1,"g":0.334,"q":0.837},{"k":1,"g":0.265,"q":0.786},{"k":1,"g":0.225,"q":0.73},{"k":1,"g":0.198,"q":0.678},{"k":1,"g":0.179,"q":0.606},{"k":2,"g":0.238,"q":0.356},{"k":2,"g":0.281,"q":0.319},{"k":2,"g":0.375,"q":0.264},{"k":2,"g":0.444,"q":0.232},{"k":2,"g":0.544,"q":0.165},{"k":2,"g":0.581,"q":0.114},{"k":2,"g":0.554,"q":0.062},{"k":2,"g":0.179,"q":0.011},{"k":3,"g":0.988,"q":0.741},{"k":3,"g":0.863,"q":0.683},{"k":3,"g":0.778,"q":0.629},{"k":3,"g":0.725,"q":0.577},{"k":3,"g":0.694,"q":0.54},{"k":3,"g":0.683,"q":0.5},{"k":4,"g":0.778,"q":0.257},{"k":4,"g":0.819,"q":0.209},{"k":4,"g":0.844,"q":0.165},{"k":4,"g":0.853,"q":0.114},{"k":4,"g":0.81,"q":0.062},{"k":4,"g":0.5,"q":0.011},{"k":5,"g":0.844,"q":0.011},{"k":5,"g":0.988,"q":0.039},{"k":6,"g":0.115,"q":0.212},{"k":6,"g":0.225,"q":0.201},{"k":6,"g":0.331,"q":0.165},{"k":6,"g":0.403,"q":0.114},{"k":6,"g":0.385,"q":0.062},{"k":6,"g":0.225,"q":0.043},{"k":6,"g":0.115,"q":0.037},{"k":6,"g":0.034,"q":0.062},{"k":6,"g":0.035,"q":0.114},{"k":6,"g":0.058,"q":0.165},{"k":6,"g":0.115,"q":0.212}],
"c8":[{"k":1,"g":0.987,"q":0.952},{"k":1,"g":0.805,"q":0.941},{"k":1,"g":0.633,"q":0.925},{"k":1,"g":0.461,"q":0.887},{"k":1,"g":0.337,"q":0.838},{"k":1,"g":0.273,"q":0.786},{"k":1,"g":0.231,"q":0.73},{"k":1,"g":0.203,"q":0.678},{"k":1,"g":0.184,"q":0.606},{"k":2,"g":0.264,"q":0.362},{"k":2,"g":0.337,"q":0.319},{"k":2,"g":0.499,"q":0.241},{"k":2,"g":0.576,"q":0.2},{"k":2,"g":0.652,"q":0.154},{"k":2,"g":0.694,"q":0.114},{"k":2,"g":0.694,"q":0.062},{"k":2,"g":0.442,"q":0.011},{"k":3,"g":0.987,"q":0.738},{"k":3,"g":0.862,"q":0.681},{"k":3,"g":0.786,"q":0.632},{"k":3,"g":0.734,"q":0.586},{"k":3,"g":0.696,"q":0.499},{"k":4,"g":0.824,"q":0.262},{"k":4,"g":0.872,"q":0.218},{"k":4,"g":0.914,"q":0.165},{"k":4,"g":0.935,"q":0.114},{"k":4,"g":0.916,"q":0.062},{"k":4,"g":0.694,"q":0.011},{"k":5,"g":0.279,"q":0.232},{"k":5,"g":0.228,"q":0.246},{"k":5,"g":0.12,"q":0.255},{"k":5,"g":0.059,"q":0.218},{"k":5,"g":0.027,"q":0.165},{"k":5,"g":0.01,"q":0.126},{"k":6,"g":0.011,"q":0.04},{"k":6,"g":0.048,"q":0.011},{"k":7,"g":0.264,"q":0.011},{"k":7,"g":0.562,"q":0.062},{"k":7,"g":0.562,"q":0.086},{"k":8,"g":0.12,"q":0.158},{"k":8,"g":0.228,"q":0.161},{"k":8,"g":0.356,"q":0.131},{"k":8,"g":0.375,"q":0.114},{"k":8,"g":0.407,"q":0.062},{"k":8,"g":0.231,"q":0.04},{"k":8,"g":0.12,"q":0.032},{"k":8,"g":0.065,"q":0.062},{"k":8,"g":0.078,"q":0.114},{"k":8,"g":0.12,"q":0.158}],
"c9":[{"k":1,"g":0.99,"q":0.952},{"k":1,"g":0.818,"q":0.941},{"k":1,"g":0.646,"q":0.925},{"k":1,"g":0.454,"q":0.887},{"k":1,"g":0.339,"q":0.838},{"k":1,"g":0.272,"q":0.786},{"k":1,"g":0.234,"q":0.73},{"k":1,"g":0.205,"q":0.678},{"k":1,"g":0.186,"q":0.606},{"k":2,"g":0.278,"q":0.365},{"k":2,"g":0.368,"q":0.319},{"k":2,"g":0.502,"q":0.266},{"k":2,"g":0.607,"q":0.223},{"k":2,"g":0.703,"q":0.172},{"k":2,"g":0.761,"q":0.114},{"k":2,"g":0.776,"q":0.062},{"k":2,"g":0.598,"q":0.011},{"k":3,"g":0.99,"q":0.736},{"k":3,"g":0.875,"q":0.687},{"k":3,"g":0.799,"q":0.632},{"k":3,"g":0.732,"q":0.568},{"k":3,"g":0.707,"q":0.497},{"k":4,"g":0.847,"q":0.269},{"k":4,"g":0.904,"q":0.218},{"k":4,"g":0.962,"q":0.163},{"k":4,"g":0.99,"q":0.114},{"k":4,"g":0.985,"q":0.062},{"k":4,"g":0.814,"q":0.011},{"k":5,"g":0.243,"q":0.261},{"k":5,"g":0.119,"q":0.275},{"k":5,"g":0.033,"q":0.218},{"k":5,"g":0.008,"q":0.179},{"k":6,"g":0.579,"q":0.152},{"k":6,"g":0.636,"q":0.114},{"k":6,"g":0.661,"q":0.062},{"k":6,"g":0.473,"q":0.011},{"k":7,"g":0.157,"q":0.195},{"k":7,"g":0.119,"q":0.194},{"k":7,"g":0.061,"q":0.154},{"k":7,"g":0.023,"q":0.062},{"k":7,"g":0.071,"q":0.011},{"k":8,"g":0.489,"q":0.106},{"k":8,"g":0.531,"q":0.062},{"k":8,"g":0.32,"q":0.011}]},
"hconcat":[{"vconcat":[{"hconcat":[
{"title":"Constant p = 0.5","width":291,"height":375,"encoding":{"x":{"field":"g","type":"quantitative","title":"γ","scale":{"domain":[-0.0445,1.0445],"nice":false,"zero":false},"axis":{"values":[0,0.5,1],"format":".1f"}},"y":{"field":"q","type":"quantitative","title":"q","scale":{"domain":[-0.0158,1.0158],"nice":false,"zero":false},"axis":{"values":[0,0.2,0.4,0.6,0.8,1],"format":".1f"}}},"layer":[{"data":{"name":"p0"},"transform":[{"lookup":"i","from":{"data":{"name":"gs"},"key":"i","fields":["g"]}},{"lookup":"j","from":{"data":{"name":"qs"},"key":"j","fields":["q"]}}],"mark":"rect","encoding":{"color":{"field":"v","type":"quantitative","scale":{"scheme":"viridis","domain":[10,175],"clamp":true},"legend":null}}},{"data":{"name":"c0"},"mark":"line","encoding":{"detail":{"field":"k"},"order":{"value":null}}},{"data":{"values":[{"g":0.468,"q":0.27,"t":"0.0150"}]},"mark":{"type":"text","angle":-30},"encoding":{"text":{"field":"t"}}},{"data":{"values":[{"g":0.665,"q":0.063,"t":"0.0100"}]},"mark":{"type":"text","angle":-8},"encoding":{"text":{"field":"t"}}}]},
{"title":"T = 1.0","width":291,"height":375,"encoding":{"x":{"field":"g","type":"quantitative","title":"γ","scale":{"domain":[-0.0445,1.0445],"nice":false,"zero":false},"axis":{"values":[0,0.5,1],"format":".1f"}},"y":{"field":"q","type":"quantitative","title":"q","scale":{"domain":[-0.0158,1.0158],"nice":false,"zero":false},"axis":{"values":[0,0.2,0.4,0.6,0.8,1],"format":".1f"}}},"layer":[{"data":{"name":"p1"},"transform":[{"lookup":"i","from":{"data":{"name":"gs"},"key":"i","fields":["g"]}},{"lookup":"j","from":{"data":{"name":"qs"},"key":"j","fields":["q"]}}],"mark":"rect","encoding":{"color":{"field":"v","type":"quantitative","scale":{"scheme":"viridis","domain":[10,175],"clamp":true},"legend":null}}},{"data":{"name":"c1"},"mark":"line","encoding":{"detail":{"field":"k"},"order":{"value":null}}},{"data":{"values":[{"g":0.128,"q":0.677,"t":"0.0150"}]},"mark":{"type":"text","angle":-72},"encoding":{"text":{"field":"t"}}},{"data":{"values":[{"g":0.411,"q":0.523,"t":"0.0100"}]},"mark":{"type":"text","angle":-56},"encoding":{"text":{"field":"t"}}},{"data":{"values":[{"g":0.654,"q":0.362,"t":"0.0025"}]},"mark":{"type":"text","angle":-53},"encoding":{"text":{"field":"t"}}}]},
{"title":"T = 3.0","width":291,"height":375,"encoding":{"x":{"field":"g","type":"quantitative","title":"γ","scale":{"domain":[-0.0445,1.0445],"nice":false,"zero":false},"axis":{"values":[0,0.5,1],"format":".1f"}},"y":{"field":"q","type":"quantitative","title":"q","scale":{"domain":[-0.0158,1.0158],"nice":false,"zero":false},"axis":{"values":[0,0.2,0.4,0.6,0.8,1],"format":".1f"}}},"layer":[{"data":{"name":"p2"},"transform":[{"lookup":"i","from":{"data":{"name":"gs"},"key":"i","fields":["g"]}},{"lookup":"j","from":{"data":{"name":"qs"},"key":"j","fields":["q"]}}],"mark":"rect","encoding":{"color":{"field":"v","type":"quantitative","scale":{"scheme":"viridis","domain":[10,175],"clamp":true},"legend":null}}},{"data":{"name":"c2"},"mark":"line","encoding":{"detail":{"field":"k"},"order":{"value":null}}},{"data":{"values":[{"g":0.148,"q":0.677,"t":"0.0150"}]},"mark":{"type":"text","angle":-72},"encoding":{"text":{"field":"t"}}},{"data":{"values":[{"g":0.402,"q":0.473,"t":"0.0100"}]},"mark":{"type":"text","angle":-58},"encoding":{"text":{"field":"t"}}},{"data":{"values":[{"g":0.646,"q":0.316,"t":"0.0025"}]},"mark":{"type":"text","angle":-53},"encoding":{"text":{"field":"t"}}}]},
{"title":"T = 10.0","width":291,"height":375,"encoding":{"x":{"field":"g","type":"quantitative","title":"γ","scale":{"domain":[-0.0445,1.0445],"nice":false,"zero":false},"axis":{"values":[0,0.5,1],"format":".1f"}},"y":{"field":"q","type":"quantitative","title":"q","scale":{"domain":[-0.0158,1.0158],"nice":false,"zero":false},"axis":{"values":[0,0.2,0.4,0.6,0.8,1],"format":".1f"}}},"layer":[{"data":{"name":"p3"},"transform":[{"lookup":"i","from":{"data":{"name":"gs"},"key":"i","fields":["g"]}},{"lookup":"j","from":{"data":{"name":"qs"},"key":"j","fields":["q"]}}],"mark":"rect","encoding":{"color":{"field":"v","type":"quantitative","scale":{"scheme":"viridis","domain":[10,175],"clamp":true},"legend":null}}},{"data":{"name":"c3"},"mark":"line","encoding":{"detail":{"field":"k"},"order":{"value":null}}},{"data":{"values":[{"g":0.184,"q":0.677,"t":"0.0150"}]},"mark":{"type":"text","angle":-72},"encoding":{"text":{"field":"t"}}},{"data":{"values":[{"g":0.471,"q":0.422,"t":"0.0100"}]},"mark":{"type":"text","angle":-58},"encoding":{"text":{"field":"t"}}},{"data":{"values":[{"g":0.678,"q":0.215,"t":"0.0025"}]},"mark":{"type":"text","angle":-47},"encoding":{"text":{"field":"t"}}}]},
{"title":"T = 20.0","width":291,"height":375,"encoding":{"x":{"field":"g","type":"quantitative","title":"γ","scale":{"domain":[-0.0445,1.0445],"nice":false,"zero":false},"axis":{"values":[0,0.5,1],"format":".1f"}},"y":{"field":"q","type":"quantitative","title":"q","scale":{"domain":[-0.0158,1.0158],"nice":false,"zero":false},"axis":{"values":[0,0.2,0.4,0.6,0.8,1],"format":".1f"}}},"layer":[{"data":{"name":"p4"},"transform":[{"lookup":"i","from":{"data":{"name":"gs"},"key":"i","fields":["g"]}},{"lookup":"j","from":{"data":{"name":"qs"},"key":"j","fields":["q"]}}],"mark":"rect","encoding":{"color":{"field":"v","type":"quantitative","scale":{"scheme":"viridis","domain":[10,175],"clamp":true},"legend":null}}},{"data":{"name":"c4"},"mark":"line","encoding":{"detail":{"field":"k"},"order":{"value":null}}},{"data":{"values":[{"g":0.2,"q":0.677,"t":"0.0150"}]},"mark":{"type":"text","angle":-70},"encoding":{"text":{"field":"t"}}},{"data":{"values":[{"g":0.559,"q":0.367,"t":"0.0100"}]},"mark":{"type":"text","angle":-62},"encoding":{"text":{"field":"t"}}},{"data":{"values":[{"g":0.771,"q":0.136,"t":"0.0025"}]},"mark":{"type":"text","angle":-37},"encoding":{"text":{"field":"t"}}}]}
],"spacing":20},{"hconcat":[
{"title":"T = 30.0","width":291,"height":375,"encoding":{"x":{"field":"g","type":"quantitative","title":"γ","scale":{"domain":[-0.0445,1.0445],"nice":false,"zero":false},"axis":{"values":[0,0.5,1],"format":".1f"}},"y":{"field":"q","type":"quantitative","title":"q","scale":{"domain":[-0.0158,1.0158],"nice":false,"zero":false},"axis":{"values":[0,0.2,0.4,0.6,0.8,1],"format":".1f"}}},"layer":[{"data":{"name":"p5"},"transform":[{"lookup":"i","from":{"data":{"name":"gs"},"key":"i","fields":["g"]}},{"lookup":"j","from":{"data":{"name":"qs"},"key":"j","fields":["q"]}}],"mark":"rect","encoding":{"color":{"field":"v","type":"quantitative","scale":{"scheme":"viridis","domain":[10,175],"clamp":true},"legend":null}}},{"data":{"name":"c5"},"mark":"line","encoding":{"detail":{"field":"k"},"order":{"value":null}}},{"data":{"values":[{"g":0.21,"q":0.673,"t":"0.0150"}]},"mark":{"type":"text","angle":-70},"encoding":{"text":{"field":"t"}}},{"data":{"values":[{"g":0.662,"q":0.313,"t":"0.0100"}]},"mark":{"type":"text","angle":-90},"encoding":{"text":{"field":"t"}}},{"data":{"values":[{"g":0.771,"q":0.054,"t":"0.0025"}]},"mark":{"type":"text","angle":-20},"encoding":{"text":{"field":"t"}}}]},
{"title":"T = 40.0","width":291,"height":375,"encoding":{"x":{"field":"g","type":"quantitative","title":"γ","scale":{"domain":[-0.0445,1.0445],"nice":false,"zero":false},"axis":{"values":[0,0.5,1],"format":".1f"}},"y":{"field":"q","type":"quantitative","title":"q","scale":{"domain":[-0.0158,1.0158],"nice":false,"zero":false},"axis":{"values":[0,0.2,0.4,0.6,0.8,1],"format":".1f"}}},"layer":[{"data":{"name":"p6"},"transform":[{"lookup":"i","from":{"data":{"name":"gs"},"key":"i","fields":["g"]}},{"lookup":"j","from":{"data":{"name":"qs"},"key":"j","fields":["q"]}}],"mark":"rect","encoding":{"color":{"field":"v","type":"quantitative","scale":{"scheme":"viridis","domain":[10,175],"clamp":true},"legend":null}}},{"data":{"name":"c6"},"mark":"line","encoding":{"detail":{"field":"k"},"order":{"value":null}}},{"data":{"values":[{"g":0.205,"q":0.476,"t":"0.0150"}]},"mark":{"type":"text","angle":79},"encoding":{"text":{"field":"t"}}},{"data":{"values":[{"g":0.793,"q":0.321,"t":"0.0100"}]},"mark":{"type":"text","angle":68},"encoding":{"text":{"field":"t"}}}]},
{"title":"T = 50.0","width":291,"height":375,"encoding":{"x":{"field":"g","type":"quantitative","title":"γ","scale":{"domain":[-0.0445,1.0445],"nice":false,"zero":false},"axis":{"values":[0,0.5,1],"format":".1f"}},"y":{"field":"q","type":"quantitative","title":"q","scale":{"domain":[-0.0158,1.0158],"nice":false,"zero":false},"axis":{"values":[0,0.2,0.4,0.6,0.8,1],"format":".1f"}}},"layer":[{"data":{"name":"p7"},"transform":[{"lookup":"i","from":{"data":{"name":"gs"},"key":"i","fields":["g"]}},{"lookup":"j","from":{"data":{"name":"qs"},"key":"j","fields":["q"]}}],"mark":"rect","encoding":{"color":{"field":"v","type":"quantitative","scale":{"scheme":"viridis","domain":[10,175],"clamp":true},"legend":null}}},{"data":{"name":"c7"},"mark":"line","encoding":{"detail":{"field":"k"},"order":{"value":null}}},{"data":{"values":[{"g":0.188,"q":0.474,"t":"0.0150"}]},"mark":{"type":"text","angle":80},"encoding":{"text":{"field":"t"}}},{"data":{"values":[{"g":0.706,"q":0.373,"t":"0.0100"}]},"mark":{"type":"text","angle":74},"encoding":{"text":{"field":"t"}}}]},
{"title":"T = 60.0","width":291,"height":375,"encoding":{"x":{"field":"g","type":"quantitative","title":"γ","scale":{"domain":[-0.0445,1.0445],"nice":false,"zero":false},"axis":{"values":[0,0.5,1],"format":".1f"}},"y":{"field":"q","type":"quantitative","title":"q","scale":{"domain":[-0.0158,1.0158],"nice":false,"zero":false},"axis":{"values":[0,0.2,0.4,0.6,0.8,1],"format":".1f"}}},"layer":[{"data":{"name":"p8"},"transform":[{"lookup":"i","from":{"data":{"name":"gs"},"key":"i","fields":["g"]}},{"lookup":"j","from":{"data":{"name":"qs"},"key":"j","fields":["q"]}}],"mark":"rect","encoding":{"color":{"field":"v","type":"quantitative","scale":{"scheme":"viridis","domain":[10,175],"clamp":true},"legend":null}}},{"data":{"name":"c8"},"mark":"line","encoding":{"detail":{"field":"k"},"order":{"value":null}}},{"data":{"values":[{"g":0.197,"q":0.474,"t":"0.0150"}]},"mark":{"type":"text","angle":78},"encoding":{"text":{"field":"t"}}},{"data":{"values":[{"g":0.738,"q":0.373,"t":"0.0100"}]},"mark":{"type":"text","angle":70},"encoding":{"text":{"field":"t"}}},{"data":{"values":[{"g":0.446,"q":0.181,"t":"0.0175"}]},"mark":{"type":"text","angle":38},"encoding":{"text":{"field":"t"}}}]},
{"title":"T = 70.0","width":291,"height":375,"encoding":{"x":{"field":"g","type":"quantitative","title":"γ","scale":{"domain":[-0.0445,1.0445],"nice":false,"zero":false},"axis":{"values":[0,0.5,1],"format":".1f"}},"y":{"field":"q","type":"quantitative","title":"q","scale":{"domain":[-0.0158,1.0158],"nice":false,"zero":false},"axis":{"values":[0,0.2,0.4,0.6,0.8,1],"format":".1f"}}},"layer":[{"data":{"name":"p9"},"transform":[{"lookup":"i","from":{"data":{"name":"gs"},"key":"i","fields":["g"]}},{"lookup":"j","from":{"data":{"name":"qs"},"key":"j","fields":["q"]}}],"mark":"rect","encoding":{"color":{"field":"v","type":"quantitative","scale":{"scheme":"viridis","domain":[10,175],"clamp":true},"legend":null}}},{"data":{"name":"c9"},"mark":"line","encoding":{"detail":{"field":"k"},"order":{"value":null}}},{"data":{"values":[{"g":0.199,"q":0.474,"t":"0.0150"}]},"mark":{"type":"text","angle":78},"encoding":{"text":{"field":"t"}}},{"data":{"values":[{"g":0.751,"q":0.373,"t":"0.0100"}]},"mark":{"type":"text","angle":62},"encoding":{"text":{"field":"t"}}},{"data":{"values":[{"g":0.42,"q":0.223,"t":"0.0175"}]},"mark":{"type":"text","angle":35},"encoding":{"text":{"field":"t"}}},{"data":{"values":[{"g":0.339,"q":0.172,"t":"0.0200"}]},"mark":{"type":"text","angle":25},"encoding":{"text":{"field":"t"}}}]}
],"spacing":20}],"spacing":25.5},{"width":40,"height":863.5,"view":{"stroke":null},"data":{"name":"cb"},"mark":{"type":"rect","stroke":"black","strokeWidth":1.3,"clip":false,"fill":{"gradient":"linear","x1":0,"y1":1,"x2":0,"y2":0,"stops":[{"offset":0,"color":"#440154"},{"offset":0.11,"color":"#482878"},{"offset":0.22,"color":"#3e4989"},{"offset":0.33,"color":"#31688e"},{"offset":0.44,"color":"#26828e"},{"offset":0.56,"color":"#1f9e89"},{"offset":0.67,"color":"#35b779"},{"offset":0.78,"color":"#6ece58"},{"offset":0.89,"color":"#b5de2b"},{"offset":1,"color":"#fde725"}]}},"encoding":{"x":{"value":0},"x2":{"value":40},"y":{"field":"v","type":"quantitative","title":null,"scale":{"domain":[10,175],"range":[828,28],"nice":false,"zero":false},"axis":{"orient":"right","values":[20,40,60,80,100,120,140,160],"labelExpr":"format(datum.value/10000,'.3f')"}},"y2":{"field":"w"}}}],"spacing":36}
